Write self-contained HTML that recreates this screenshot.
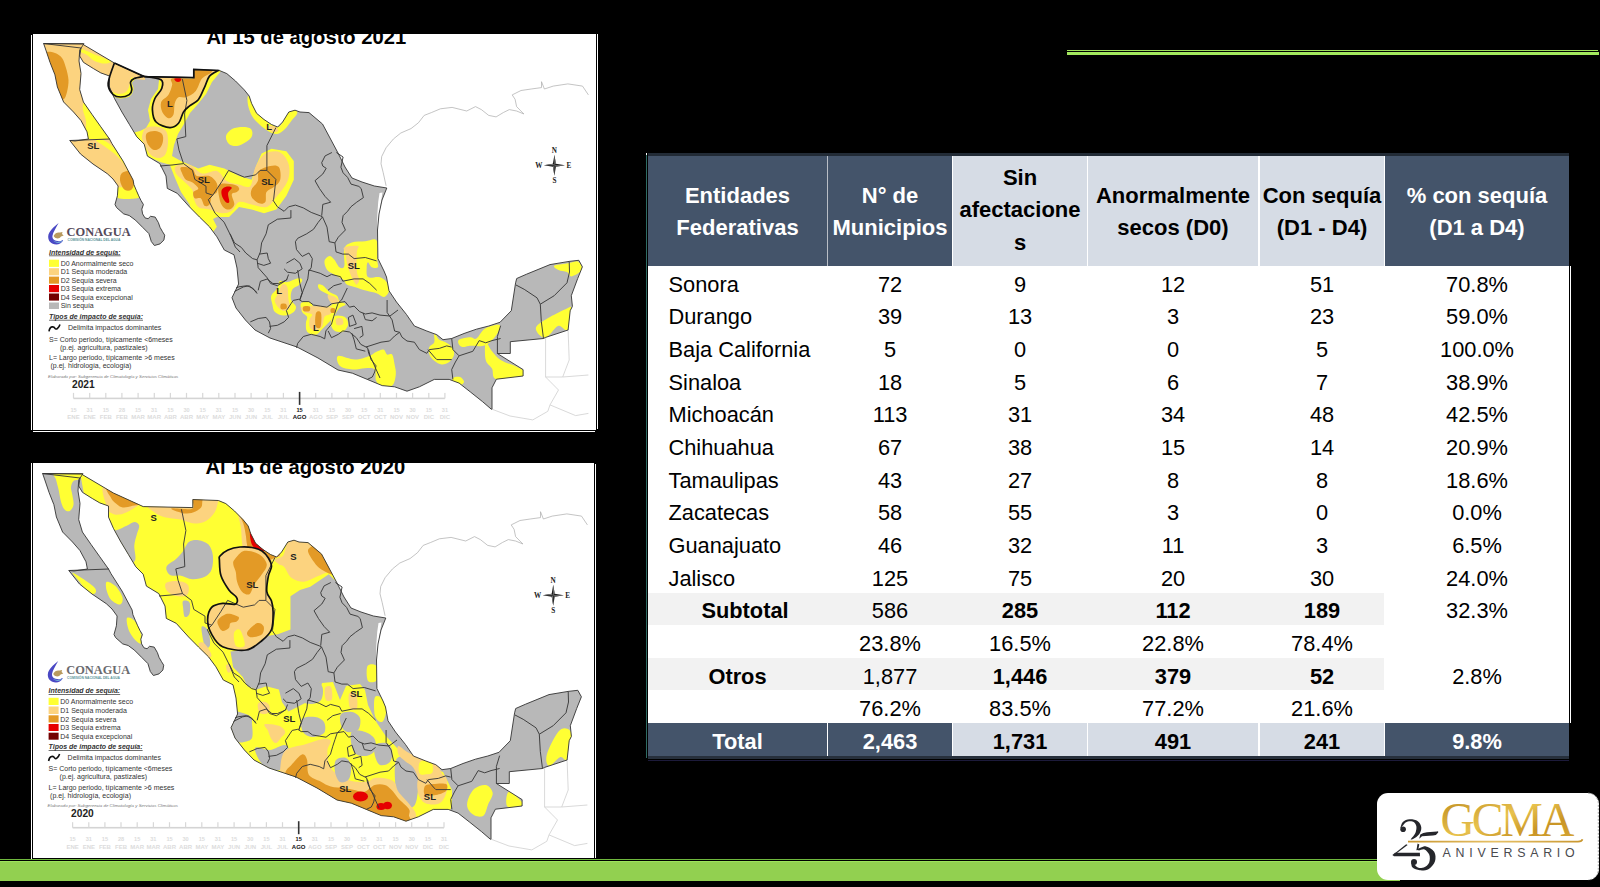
<!DOCTYPE html>
<html><head><meta charset="utf-8"><style>
*{margin:0;padding:0;box-sizing:border-box}
html,body{width:1600px;height:887px;overflow:hidden;background:#000}
body{position:relative;font-family:"Liberation Sans",sans-serif}
.c{position:absolute;overflow:visible}
.t{position:absolute;white-space:nowrap;line-height:1;font-family:"Liberation Sans",sans-serif}
.h{position:absolute;left:0;right:0;text-align:center;white-space:nowrap;font-weight:bold;font-size:22px;line-height:1}
</style></head>
<body>
<div style="position:absolute;left:1067px;top:50px;width:531px;height:1px;background:#9ee05c"></div>
<div style="position:absolute;left:1067px;top:52px;width:532px;height:3px;background:#a3e85e"></div>
<div style="position:absolute;left:0;top:859px;width:1400px;height:1px;background:#6fb83e"></div>
<div style="position:absolute;left:0;top:861px;width:1400px;height:20px;background:#92d050"></div>
<div style="position:absolute;left:0;top:861px;width:1400px;height:1px;background:#9ee35c"></div>
<svg width="1600" height="887" viewBox="0 0 1600 887" style="position:absolute;left:0;top:0">
<rect x="33" y="34" width="563" height="396" fill="#fff"/>
<rect x="31" y="35" width="1" height="395" fill="#fff"/>
<rect x="33" y="431" width="562" height="1" fill="#fff"/>
<rect x="597" y="34" width="1" height="395" fill="#fff"/>
<rect x="33" y="463" width="561" height="395" fill="#fff"/>
<rect x="31" y="463" width="1" height="396" fill="#fff"/>
<rect x="595" y="464" width="1" height="394" fill="#fff"/>
<defs>
<clipPath id="mx"><path d="M43.5,43.5 L83.0,44.0 L84.0,45.0 L114.4,63.0 L144.2,76.6 L193.8,77.6 L193.8,69.5 L219.4,70.5 L226.8,73.6 L235.5,81.0 L244.2,89.8 L249.2,96.0 L251.6,103.4 L256.6,113.3 L264.0,119.5 L271.5,124.5 L277.7,127.0 L282.6,122.0 L288.8,112.0 L295.0,110.2 L300.0,112.0 L309.0,112.6 L322.5,124.0 L330.0,138.0 L338.0,153.0 L345.0,167.0 L352.0,178.0 L362.0,182.0 L374.4,186.0 L386.8,188.0 L382.0,200.0 L379.0,214.0 L377.5,230.0 L377.9,258.5 L384.0,271.0 L386.5,277.0 L389.0,290.8 L396.5,302.0 L406.4,314.4 L414.4,326.0 L426.8,331.0 L436.8,334.7 L443.0,339.7 L451.7,338.5 L464.0,333.5 L476.4,329.2 L488.8,326.0 L500.0,322.3 L511.3,310.7 L515.6,282.8 L516.7,278.5 L526.3,274.3 L550.0,264.6 L569.2,261.4 L578.8,260.3 L582.4,266.8 L577.7,278.5 L571.3,295.7 L572.4,306.4 L570.2,310.7 L568.1,330.0 L545.6,337.4 L543.5,338.5 L510.3,341.7 L510.3,353.5 L497.4,353.5 L523.1,369.6 L523.1,376.0 L496.4,379.2 L492.0,387.8 L492.0,409.2 L491.3,409.2 L482.6,401.7 L470.2,391.8 L459.1,383.1 L449.2,379.4 L434.3,379.4 L419.4,386.8 L407.0,391.2 L394.6,386.8 L382.2,385.6 L367.3,379.4 L352.4,373.2 L338.0,370.0 L318.0,358.0 L297.0,347.0 L270.0,338.0 L255.0,330.0 L245.4,320.0 L236.0,308.0 L232.0,297.7 L238.6,284.0 L237.0,268.0 L234.0,254.8 L224.3,250.0 L216.9,236.8 L209.5,226.8 L199.5,217.0 L189.6,207.0 L177.2,193.3 L167.3,188.4 L166.0,176.0 L159.8,163.6 L147.4,156.1 L144.2,144.2 L136.8,136.8 L129.3,124.3 L121.9,112.0 L114.4,98.3 L109.5,87.1 L109.5,76.0 L100.8,72.9 L93.3,68.5 L83.4,62.3 L79.7,56.0 L81.0,48.0Z"/><path d="M43.7,43.7 L84.0,43.7 L79.7,50.0 L79.0,61.0 L81.0,73.5 L79.7,89.6 L83.4,102.0 L92.0,114.4 L100.8,126.8 L109.5,139.0 L112.0,143.7 L123.0,161.0 L133.1,180.0 L133.9,184.7 L136.3,190.3 L138.7,195.8 L141.0,200.5 L143.4,204.5 L141.8,209.2 L142.6,213.9 L145.0,217.9 L148.1,218.7 L150.5,216.3 L155.2,217.1 L158.4,222.6 L160.0,227.3 L162.3,231.3 L164.7,235.2 L163.9,240.0 L160.0,243.9 L154.4,245.5 L151.3,241.5 L148.9,233.6 L142.6,227.3 L135.5,220.2 L129.2,215.5 L123.7,213.9 L116.6,207.6 L115.0,204.5 L117.4,195.8 L118.1,186.0 L113.0,179.0 L107.3,173.7 L93.0,164.0 L80.5,154.0 L69.8,140.5 L75.0,141.0 L88.4,139.0 L87.0,131.8 L81.0,120.6 L73.5,112.0 L63.6,102.0 L57.4,87.0 L54.9,74.7 L50.0,62.3 L46.2,51.0Z"/></clipPath>
<clipPath id="box1"><rect x="33" y="34" width="563" height="396"/></clipPath>
<clipPath id="box2"><rect x="34" y="33" width="561" height="395"/></clipPath>
</defs>
<g transform="translate(0,0)" clip-path="url(#box1)">
<path d="M386.1,185.8 L383.2,172.6 L381.0,163.8 L381.7,156.5 L386.1,147.7 L393.5,138.9 L400.8,133.0 L411.0,128.6 L418.4,122.8 L424.2,115.4 L431.6,112.5 L440.4,108.8 L452.1,107.4 L466.7,111.0 L475.5,106.6 L481.4,109.6 L488.7,115.4 L496.1,116.9 L503.4,112.5 L509.3,109.6 L516.6,111.0 L523.9,114.0 L516.6,106.6 L515.1,99.3 L512.2,94.9 L521.0,90.5 L531.2,89.0 L541.5,87.6 L541.5,81.7 L544.4,89.0 L553.2,86.1 L567.9,83.9 L582.5,86.1 L588.4,94.9" stroke="#aaaaaa" stroke-width="0.7" fill="none"/>
<path d="M545.6,337.4 L545.6,377.0 L562.7,377.0 L569.2,360.0 L568.1,330.0" stroke="#cfcfcf" stroke-width="0.8" fill="none"/>
<path d="M545.6,377.0 L558.5,390.0 L550.0,404.9 L547.8,411.3 L532.8,419.9 L510.0,416.0 L492.0,409.2" stroke="#cfcfcf" stroke-width="0.8" fill="none"/>
<path d="M550.0,404.9 L575.6,415.6 L588.4,413.4" stroke="#cfcfcf" stroke-width="0.8" fill="none"/>
<path d="M562.7,377.0 L588.4,375.0" stroke="#cfcfcf" stroke-width="0.8" fill="none"/>
<path d="M43.5,43.5 L83.0,44.0 L84.0,45.0 L114.4,63.0 L144.2,76.6 L193.8,77.6 L193.8,69.5 L219.4,70.5 L226.8,73.6 L235.5,81.0 L244.2,89.8 L249.2,96.0 L251.6,103.4 L256.6,113.3 L264.0,119.5 L271.5,124.5 L277.7,127.0 L282.6,122.0 L288.8,112.0 L295.0,110.2 L300.0,112.0 L309.0,112.6 L322.5,124.0 L330.0,138.0 L338.0,153.0 L345.0,167.0 L352.0,178.0 L362.0,182.0 L374.4,186.0 L386.8,188.0 L382.0,200.0 L379.0,214.0 L377.5,230.0 L377.9,258.5 L384.0,271.0 L386.5,277.0 L389.0,290.8 L396.5,302.0 L406.4,314.4 L414.4,326.0 L426.8,331.0 L436.8,334.7 L443.0,339.7 L451.7,338.5 L464.0,333.5 L476.4,329.2 L488.8,326.0 L500.0,322.3 L511.3,310.7 L515.6,282.8 L516.7,278.5 L526.3,274.3 L550.0,264.6 L569.2,261.4 L578.8,260.3 L582.4,266.8 L577.7,278.5 L571.3,295.7 L572.4,306.4 L570.2,310.7 L568.1,330.0 L545.6,337.4 L543.5,338.5 L510.3,341.7 L510.3,353.5 L497.4,353.5 L523.1,369.6 L523.1,376.0 L496.4,379.2 L492.0,387.8 L492.0,409.2 L491.3,409.2 L482.6,401.7 L470.2,391.8 L459.1,383.1 L449.2,379.4 L434.3,379.4 L419.4,386.8 L407.0,391.2 L394.6,386.8 L382.2,385.6 L367.3,379.4 L352.4,373.2 L338.0,370.0 L318.0,358.0 L297.0,347.0 L270.0,338.0 L255.0,330.0 L245.4,320.0 L236.0,308.0 L232.0,297.7 L238.6,284.0 L237.0,268.0 L234.0,254.8 L224.3,250.0 L216.9,236.8 L209.5,226.8 L199.5,217.0 L189.6,207.0 L177.2,193.3 L167.3,188.4 L166.0,176.0 L159.8,163.6 L147.4,156.1 L144.2,144.2 L136.8,136.8 L129.3,124.3 L121.9,112.0 L114.4,98.3 L109.5,87.1 L109.5,76.0 L100.8,72.9 L93.3,68.5 L83.4,62.3 L79.7,56.0 L81.0,48.0Z" fill="#b8b8b8"/>
<path d="M43.7,43.7 L84.0,43.7 L79.7,50.0 L79.0,61.0 L81.0,73.5 L79.7,89.6 L83.4,102.0 L92.0,114.4 L100.8,126.8 L109.5,139.0 L112.0,143.7 L123.0,161.0 L133.1,180.0 L133.9,184.7 L136.3,190.3 L138.7,195.8 L141.0,200.5 L143.4,204.5 L141.8,209.2 L142.6,213.9 L145.0,217.9 L148.1,218.7 L150.5,216.3 L155.2,217.1 L158.4,222.6 L160.0,227.3 L162.3,231.3 L164.7,235.2 L163.9,240.0 L160.0,243.9 L154.4,245.5 L151.3,241.5 L148.9,233.6 L142.6,227.3 L135.5,220.2 L129.2,215.5 L123.7,213.9 L116.6,207.6 L115.0,204.5 L117.4,195.8 L118.1,186.0 L113.0,179.0 L107.3,173.7 L93.0,164.0 L80.5,154.0 L69.8,140.5 L75.0,141.0 L88.4,139.0 L87.0,131.8 L81.0,120.6 L73.5,112.0 L63.6,102.0 L57.4,87.0 L54.9,74.7 L50.0,62.3 L46.2,51.0Z" fill="#b8b8b8"/>
<g clip-path="url(#mx)">
<path d="M40.0,40.0 L90.0,40.0 L90.0,140.0 L40.0,140.0Z" fill="#fcd37f"/>
<path d="M47.0,52.0C48.3,51.5 52.5,52.0 55.0,53.0C57.5,54.0 60.2,55.5 62.0,58.0C63.8,60.5 64.9,64.3 66.0,68.0C67.1,71.7 68.3,76.0 68.5,80.0C68.7,84.0 67.8,88.8 67.0,92.0C66.2,95.2 65.2,98.3 64.0,99.0C62.8,99.7 61.2,98.2 60.0,96.0C58.8,93.8 58.0,89.5 57.0,86.0C56.0,82.5 55.2,78.7 54.0,75.0C52.8,71.3 51.2,67.2 50.0,64.0C48.8,60.8 47.5,58.0 47.0,56.0C46.5,54.0 45.7,52.5 47.0,52.0Z" fill="#e39a26"/>
<path d="M84.0,103.0C85.5,102.5 89.3,104.2 92.0,107.0C94.7,109.8 97.2,115.0 100.0,120.0C102.8,125.0 107.2,133.5 109.0,137.0C110.8,140.5 114.5,140.3 111.0,141.0C107.5,141.7 92.2,144.3 88.0,141.0C83.8,137.7 86.8,126.2 86.0,121.0C85.2,115.8 83.3,113.0 83.0,110.0C82.7,107.0 82.5,103.5 84.0,103.0Z" fill="#ffff33"/>
<path d="M60.0,139.0 L112.0,139.0 L125.0,160.0 L136.0,186.0 L137.0,190.0 L118.0,190.0 L105.0,172.0 L70.0,150.0Z" fill="#fcd37f"/>
<path d="M96.0,140.5C96.2,139.7 101.7,139.4 105.0,141.0C108.3,142.6 112.8,146.5 116.0,150.0C119.2,153.5 121.3,157.3 124.0,162.0C126.7,166.7 129.7,173.0 132.0,178.0C134.3,183.0 137.0,188.7 138.0,192.0C139.0,195.3 141.3,197.0 138.0,198.0C134.7,199.0 121.5,199.7 118.0,198.0C114.5,196.3 115.8,190.0 117.0,188.0C118.2,186.0 123.2,188.7 125.0,186.0C126.8,183.3 129.2,176.8 128.0,172.0C126.8,167.2 122.0,161.3 118.0,157.0C114.0,152.7 107.7,148.8 104.0,146.0C100.3,143.2 95.8,141.3 96.0,140.5Z" fill="#ffff33"/>
<path d="M122.0,173.0C123.3,171.8 126.2,170.7 128.0,171.0C129.8,171.3 132.0,172.8 133.0,175.0C134.0,177.2 134.3,181.5 134.0,184.0C133.7,186.5 132.5,189.0 131.0,190.0C129.5,191.0 126.7,191.0 125.0,190.0C123.3,189.0 121.8,186.0 121.0,184.0C120.2,182.0 119.8,179.8 120.0,178.0C120.2,176.2 120.7,174.2 122.0,173.0Z" fill="#e39a26"/>
<path d="M78.0,44.0 L145.0,70.0 L145.0,80.0 L134.0,79.0 L130.5,82.0 L131.8,89.6 L129.0,95.0 L120.0,97.0 L113.0,94.6 L108.0,86.0 L109.5,77.0 L100.0,73.0 L86.0,66.0 L83.0,55.0Z" fill="#fcd37f"/>
<path d="M81.0,48.7C83.5,49.2 91.0,53.0 96.0,55.0C101.0,57.0 109.3,59.6 110.7,61.0C112.1,62.4 107.2,63.6 104.5,63.6C101.8,63.6 97.5,62.4 94.6,61.0C91.7,59.6 89.3,56.5 87.0,55.0C84.7,53.5 82.0,53.0 81.0,52.0C80.0,51.0 78.5,48.2 81.0,48.7Z" fill="#ffff33"/>
<path d="M112.0,95.0C113.3,96.1 117.0,98.3 120.0,98.5C123.0,98.7 127.8,97.6 130.0,96.0C132.2,94.4 133.2,91.2 133.5,89.0C133.8,86.8 131.8,84.7 132.0,83.0C132.2,81.3 135.2,79.8 135.0,79.0C134.8,78.2 131.9,76.8 131.0,78.0C130.1,79.2 130.1,83.7 129.3,86.0C128.5,88.3 127.7,90.7 126.0,92.0C124.3,93.3 121.3,94.0 119.0,94.0C116.7,94.0 113.2,91.8 112.0,92.0C110.8,92.2 110.7,93.9 112.0,95.0Z" fill="#ffff33"/>
<path d="M143.0,76.0 L160.0,79.0 L159.0,80.0 L158.0,89.0 L151.0,99.0 L148.0,110.0 L150.0,121.0 L146.0,128.0 L140.0,131.0 L128.0,134.0 L140.0,148.0 L147.0,156.0 L160.0,162.0 L169.8,164.8 L174.7,177.2 L181.0,192.1 L189.6,204.5 L192.0,212.0 L200.0,222.0 L209.0,231.0 L213.2,231.8 L216.9,226.8 L213.0,219.0 L217.0,217.0 L229.0,217.0 L239.0,207.0 L251.6,209.5 L264.0,213.2 L276.4,209.5 L286.4,195.8 L293.8,179.7 L293.8,161.1 L286.4,151.2 L271.5,148.7 L261.6,153.6 L256.6,164.8 L251.6,179.7 L239.2,176.0 L224.3,168.5 L209.5,164.8 L198.3,168.5 L181.0,161.0 L172.0,156.0 L174.0,145.0 L178.0,134.0 L184.0,124.0 L190.0,113.0 L198.0,104.0 L206.0,94.0 L212.0,82.0 L221.0,71.0 L195.0,70.0 L195.0,78.5Z" fill="#ffff33"/>
<path d="M143.0,76.0 L161.0,79.8 L161.7,88.5 L154.9,98.5 L152.4,109.6 L156.1,122.0 L169.8,127.6 L178.5,123.3 L183.4,112.1 L189.6,105.9 L198.3,99.7 L204.5,87.3 L209.5,76.1 L218.1,70.5 L195.0,69.0 L195.0,78.5Z" fill="#fcd37f"/>
<path d="M172.2,78.6C175.7,77.6 189.8,80.1 193.3,78.6C196.8,77.1 190.2,70.7 193.3,69.5C196.4,68.3 210.6,69.7 212.0,71.2C213.4,72.7 204.7,75.3 202.0,78.6C199.3,81.9 198.5,87.9 195.8,91.0C193.1,94.1 188.8,96.2 185.9,97.2C183.0,98.2 180.4,96.2 178.5,97.2C176.6,98.2 175.5,100.5 174.7,103.4C173.9,106.3 174.5,112.1 173.5,114.6C172.5,117.1 170.4,118.7 168.5,118.3C166.6,117.9 163.5,114.8 162.3,112.1C161.1,109.4 160.1,105.1 161.1,102.2C162.1,99.3 166.7,97.6 168.5,94.7C170.3,91.8 171.6,87.5 172.2,84.8C172.8,82.1 168.7,79.6 172.2,78.6Z" fill="#e39a26"/>
<path d="M174.5,78.6C175.3,78.1 180.1,78.1 181.0,78.6C181.9,79.1 180.8,81.0 180.0,81.5C179.2,82.0 176.9,82.0 176.0,81.5C175.1,81.0 173.7,79.1 174.5,78.6Z" fill="#e60000"/>
<path d="M146.0,128.0C148.7,126.2 154.7,126.5 158.0,127.0C161.3,127.5 164.3,128.8 166.0,131.0C167.7,133.2 167.8,136.8 168.0,140.0C168.2,143.2 167.7,147.3 167.0,150.0C166.3,152.7 165.5,154.7 164.0,156.0C162.5,157.3 160.2,158.2 158.0,158.0C155.8,157.8 153.0,156.7 151.0,155.0C149.0,153.3 147.5,150.8 146.0,148.0C144.5,145.2 142.0,141.3 142.0,138.0C142.0,134.7 143.3,129.8 146.0,128.0Z" fill="#fcd37f"/>
<path d="M147.0,133.0C148.5,131.7 152.5,130.8 155.0,131.0C157.5,131.2 160.7,132.3 162.0,134.0C163.3,135.7 163.3,138.7 163.0,141.0C162.7,143.3 161.5,146.5 160.0,148.0C158.5,149.5 155.8,150.3 154.0,150.0C152.2,149.7 150.3,147.8 149.0,146.0C147.7,144.2 146.3,141.2 146.0,139.0C145.7,136.8 145.5,134.3 147.0,133.0Z" fill="#e39a26"/>
<path d="M176.0,166.0C178.3,164.6 185.3,163.6 189.6,164.8C193.9,166.1 197.4,172.5 202.0,173.5C206.6,174.5 212.8,169.8 216.9,171.0C221.0,172.2 223.1,178.7 226.8,181.0C230.5,183.3 235.3,183.9 239.2,184.7C243.1,185.5 247.7,188.8 250.4,185.9C253.1,183.0 252.9,172.7 255.4,167.3C257.9,161.9 261.2,156.1 265.3,153.6C269.4,151.1 276.3,150.5 280.2,152.4C284.1,154.3 287.6,160.0 288.8,164.8C290.0,169.6 289.7,175.6 287.6,181.0C285.5,186.4 279.9,192.7 276.4,197.0C272.9,201.3 270.6,205.8 266.5,207.0C262.4,208.2 256.1,205.3 251.6,204.5C247.0,203.7 242.5,201.0 239.2,202.0C235.9,203.0 234.7,208.8 231.8,210.7C228.9,212.6 225.6,213.4 221.9,213.2C218.2,213.0 213.4,210.5 209.5,209.5C205.6,208.5 201.0,209.1 198.3,207.0C195.6,204.9 194.3,199.9 193.3,197.0C192.3,194.1 193.9,192.5 192.1,189.6C190.2,186.7 184.9,182.4 182.2,179.7C179.5,177.0 177.0,175.8 176.0,173.5C175.0,171.2 173.7,167.4 176.0,166.0Z" fill="#fcd37f"/>
<path d="M181.0,167.3C182.7,166.5 189.4,167.1 192.1,168.5C194.8,169.9 194.1,174.8 197.0,176.0C199.9,177.2 206.2,174.8 209.5,176.0C212.8,177.2 215.7,180.7 216.9,183.4C218.1,186.1 217.7,190.0 216.9,192.1C216.1,194.2 213.2,193.7 212.0,195.8C210.8,197.9 210.8,202.8 209.5,204.5C208.2,206.2 205.9,206.8 204.5,205.8C203.1,204.8 202.5,199.6 200.8,198.3C199.2,197.1 195.8,199.3 194.6,198.3C193.3,197.3 192.7,193.8 193.3,192.1C193.9,190.4 198.5,190.1 198.3,188.4C198.1,186.8 194.2,183.6 192.1,182.2C190.0,180.8 187.6,181.1 185.9,179.7C184.2,178.2 183.0,175.6 182.2,173.5C181.4,171.4 179.3,168.1 181.0,167.3Z" fill="#e39a26"/>
<path d="M219.4,184.7C221.9,182.4 231.0,184.1 234.3,184.7C237.6,185.3 238.8,187.2 239.2,188.4C239.6,189.6 238.0,191.1 236.8,192.1C235.6,193.1 232.2,192.5 231.8,194.6C231.4,196.7 234.7,202.0 234.3,204.5C233.9,207.0 231.2,209.1 229.3,209.5C227.4,209.9 224.8,208.9 223.1,207.0C221.4,205.1 220.0,202.0 219.4,198.3C218.8,194.6 216.9,187.0 219.4,184.7Z" fill="#e39a26"/>
<path d="M221.9,189.6C222.7,188.0 225.2,186.8 226.8,186.5C228.5,186.2 231.6,186.7 231.8,187.8C232.0,188.9 228.5,190.9 228.1,193.3C227.7,195.7 229.7,200.6 229.3,202.0C228.9,203.4 226.8,203.0 225.6,202.0C224.4,201.0 222.5,197.9 221.9,195.8C221.3,193.7 221.1,191.2 221.9,189.6Z" fill="#e60000"/>
<path d="M259.0,171.0C261.1,168.5 266.9,166.6 270.2,166.0C273.5,165.4 277.3,165.0 279.0,167.3C280.7,169.6 281.0,176.4 280.2,179.7C279.4,183.0 276.3,185.0 274.0,187.1C271.7,189.2 267.9,189.6 266.5,192.1C265.1,194.6 266.6,200.1 265.3,202.0C264.1,203.9 261.3,204.1 259.0,203.3C256.7,202.5 252.8,199.3 251.6,197.0C250.4,194.7 250.6,192.3 251.6,189.6C252.6,186.9 256.6,184.1 257.8,181.0C259.0,177.9 256.9,173.5 259.0,171.0Z" fill="#e39a26"/>
<path d="M226.0,136.0C226.5,133.5 229.2,130.5 232.0,129.0C234.8,127.5 239.8,127.0 243.0,127.0C246.2,127.0 249.5,127.5 251.0,129.0C252.5,130.5 252.8,133.8 252.0,136.0C251.2,138.2 248.5,140.3 246.0,142.0C243.5,143.7 239.8,145.7 237.0,146.0C234.2,146.3 230.8,145.7 229.0,144.0C227.2,142.3 225.5,138.5 226.0,136.0Z" fill="#ffff33"/>
<path d="M248.0,96.0C248.7,95.5 250.5,99.2 252.0,102.0C253.5,104.8 254.8,110.1 257.0,113.0C259.2,115.9 262.5,117.6 265.0,119.5C267.5,121.4 269.8,123.2 272.0,124.5C274.2,125.8 276.2,127.4 278.0,127.0C279.8,126.6 281.2,124.5 283.0,122.0C284.8,119.5 286.8,114.0 289.0,112.0C291.2,110.0 294.7,109.7 296.0,110.0C297.3,110.3 297.7,112.3 297.0,114.0C296.3,115.7 294.0,117.5 292.0,120.0C290.0,122.5 287.5,126.7 285.0,129.0C282.5,131.3 279.8,133.7 277.0,134.0C274.2,134.3 271.0,132.7 268.0,131.0C265.0,129.3 261.7,126.5 259.0,124.0C256.3,121.5 253.8,119.2 252.0,116.0C250.2,112.8 248.7,108.3 248.0,105.0C247.3,101.7 247.3,96.5 248.0,96.0Z" fill="#ffff33"/>
<path d="M268.0,126.0C268.7,125.2 274.3,126.2 276.0,127.0C277.7,127.8 278.7,130.2 278.0,131.0C277.3,131.8 273.7,132.8 272.0,132.0C270.3,131.2 267.3,126.8 268.0,126.0Z" fill="#fcd37f"/>
<path d="M324.5,261.0C324.9,258.7 327.9,256.2 329.5,256.0C331.1,255.8 332.8,257.9 334.4,259.8C336.0,261.7 337.8,266.2 339.4,267.2C341.0,268.2 343.5,269.1 344.3,266.0C345.1,262.9 343.1,252.5 344.3,248.6C345.6,244.7 348.3,243.6 351.8,242.4C355.3,241.2 361.3,241.5 365.4,241.2C369.5,240.9 374.6,237.4 376.6,240.5C378.6,243.6 377.0,255.4 377.2,259.8C377.4,264.2 378.8,266.0 377.9,267.2C377.0,268.4 373.3,268.0 371.7,267.2C370.1,266.4 368.8,262.3 368.0,262.3C367.2,262.3 366.7,264.7 366.7,267.2C366.7,269.7 365.9,275.5 368.0,277.1C370.1,278.8 376.0,276.3 379.1,277.1C382.2,277.9 384.9,279.8 386.5,282.1C388.1,284.4 389.4,288.3 389.0,290.8C388.6,293.3 386.1,296.6 384.0,297.0C381.9,297.4 379.5,294.3 376.6,293.3C373.7,292.3 370.4,291.9 366.7,290.8C363.0,289.8 357.6,288.0 354.3,287.0C351.0,286.0 348.7,285.8 346.8,284.6C344.9,283.4 345.2,281.2 343.1,279.6C341.0,278.0 337.1,276.4 334.4,274.7C331.7,273.0 328.6,272.0 327.0,269.7C325.4,267.4 324.1,263.3 324.5,261.0Z" fill="#ffff33"/>
<path d="M344.3,247.4C346.4,246.2 355.9,245.3 358.0,246.1C360.1,246.9 357.0,248.2 356.8,252.3C356.6,256.4 356.4,266.4 356.8,271.0C357.2,275.6 359.2,277.3 359.2,279.6C359.2,281.9 357.6,284.2 356.8,284.6C356.0,285.0 355.3,283.8 354.3,282.1C353.3,280.5 351.9,278.0 350.6,274.7C349.4,271.4 347.6,265.8 346.8,262.3C346.0,258.8 346.0,256.1 345.6,253.6C345.2,251.1 342.2,248.7 344.3,247.4Z" fill="#fcd37f"/>
<path d="M279.8,280.9C281.5,279.9 284.4,282.5 287.3,282.1C290.2,281.7 294.7,278.8 297.2,278.4C299.7,278.0 301.8,278.6 302.2,279.6C302.6,280.6 301.3,282.9 299.7,284.6C298.1,286.3 293.8,287.1 292.3,289.6C290.9,292.1 290.4,296.6 291.0,299.5C291.6,302.4 295.8,304.6 296.0,306.9C296.2,309.2 294.4,311.7 292.3,313.1C290.2,314.6 286.5,315.8 283.6,315.6C280.7,315.4 276.8,313.8 274.9,311.9C273.0,310.0 273.0,307.1 272.4,304.4C271.8,301.7 270.4,298.5 271.2,295.8C272.0,293.1 276.0,290.8 277.4,288.3C278.8,285.8 278.1,281.9 279.8,280.9Z" fill="#ffff33"/>
<path d="M282.3,284.6C284.0,283.4 286.3,284.5 287.3,287.0C288.3,289.5 288.1,296.0 288.5,299.5C288.9,303.0 290.8,306.2 289.8,308.1C288.8,310.0 284.8,311.6 282.3,310.6C279.8,309.6 275.7,304.7 274.9,302.0C274.1,299.3 276.2,297.4 277.4,294.5C278.6,291.6 280.6,285.9 282.3,284.6Z" fill="#fcd37f"/>
<path d="M281.0,304.0C281.8,303.2 285.1,303.2 286.0,304.0C286.9,304.8 287.3,307.7 286.5,308.5C285.7,309.3 281.9,309.8 281.0,309.0C280.1,308.2 280.2,304.8 281.0,304.0Z" fill="#e39a26"/>
<path d="M301.0,303.2C302.2,301.6 307.3,301.4 309.6,302.0C311.9,302.6 311.9,306.1 314.6,306.9C317.3,307.7 322.8,307.3 325.7,306.9C328.6,306.5 331.4,306.2 332.0,304.4C332.6,302.5 331.6,298.3 329.5,295.8C327.4,293.3 321.4,291.5 319.5,289.6C317.6,287.7 317.7,285.2 318.3,284.6C318.9,284.0 321.4,284.6 323.3,285.8C325.2,287.0 327.2,290.3 329.5,292.0C331.8,293.7 335.4,294.4 337.0,295.8C338.6,297.2 338.0,299.3 339.4,300.7C340.8,302.1 345.6,303.2 345.6,304.4C345.6,305.6 341.3,306.2 339.4,308.1C337.5,310.0 336.0,313.3 334.4,315.6C332.8,317.9 331.6,319.5 329.5,321.8C327.4,324.1 324.3,327.0 322.0,329.2C319.7,331.4 318.3,334.4 315.8,334.8C313.3,335.2 308.8,333.7 307.1,331.7C305.5,329.7 305.9,325.5 305.9,323.0C305.9,320.5 307.7,318.7 307.1,316.8C306.5,314.9 303.2,314.2 302.2,311.9C301.2,309.6 299.8,304.8 301.0,303.2Z" fill="#ffff33"/>
<path d="M302.2,306.9C306.3,306.1 324.1,306.3 329.5,306.9C334.9,307.5 334.4,309.4 334.4,310.6C334.4,311.9 331.1,313.4 329.5,314.4C327.9,315.4 325.8,314.7 324.5,316.8C323.2,318.9 323.6,324.5 322.0,326.8C320.4,329.1 316.7,330.5 314.6,330.5C312.5,330.5 310.4,328.7 309.6,326.8C308.8,324.9 309.2,321.4 309.6,319.3C310.0,317.2 312.9,315.6 312.1,314.4C311.3,313.2 306.4,313.1 304.7,311.9C303.0,310.6 298.1,307.7 302.2,306.9Z" fill="#fcd37f"/>
<path d="M328.0,295.0C329.0,294.5 333.2,295.8 335.0,297.0C336.8,298.2 339.3,300.8 339.0,302.0C338.7,303.2 334.7,304.3 333.0,304.0C331.3,303.7 329.8,301.5 329.0,300.0C328.2,298.5 327.0,295.5 328.0,295.0Z" fill="#fcd37f"/>
<path d="M303.5,306.5C304.5,305.8 308.5,305.8 309.5,306.5C310.5,307.2 310.5,310.2 309.5,311.0C308.5,311.8 304.5,311.8 303.5,311.0C302.5,310.2 302.5,307.2 303.5,306.5Z" fill="#e39a26"/>
<path d="M316.0,313.0C316.9,310.8 320.2,310.7 321.0,313.0C321.8,315.3 321.4,324.8 320.5,327.0C319.6,329.2 316.2,328.3 315.5,326.0C314.8,323.7 315.1,315.2 316.0,313.0Z" fill="#e39a26"/>
<path d="M331.0,308.5C331.7,307.8 334.3,307.8 335.0,308.5C335.7,309.2 335.7,311.8 335.0,312.5C334.3,313.2 331.7,313.2 331.0,312.5C330.3,311.8 330.3,309.2 331.0,308.5Z" fill="#e39a26"/>
<path d="M332.0,318.0C333.2,316.4 335.7,315.6 338.0,315.6C340.3,315.6 344.3,316.4 346.0,318.0C347.7,319.6 348.5,322.7 348.0,325.0C347.5,327.3 345.2,330.7 343.0,331.7C340.8,332.7 337.0,332.1 335.0,331.0C333.0,329.9 331.5,327.2 331.0,325.0C330.5,322.8 330.8,319.6 332.0,318.0Z" fill="#ffff33"/>
<path d="M336.0,319.0C336.8,317.9 340.8,317.7 342.0,318.5C343.2,319.3 343.8,322.9 343.0,324.0C342.2,325.1 338.2,325.8 337.0,325.0C335.8,324.2 335.2,320.1 336.0,319.0Z" fill="#fcd37f"/>
<path d="M338.0,356.0C340.5,354.9 349.6,359.6 354.9,359.6C360.2,359.6 366.3,357.1 369.8,355.8C373.3,354.6 373.7,353.1 376.0,352.1C378.3,351.1 381.5,349.2 383.4,349.6C385.2,350.0 385.7,353.8 387.1,354.6C388.6,355.4 390.9,353.0 392.1,354.6C393.4,356.2 394.0,361.2 394.6,364.5C395.2,367.8 396.2,370.9 395.8,374.4C395.4,377.9 394.6,383.7 392.1,385.6C389.6,387.5 383.7,386.4 381.0,385.6C378.3,384.8 377.1,383.3 376.0,380.6C374.9,377.9 376.6,371.6 374.7,369.5C372.8,367.4 368.5,368.2 364.8,368.2C361.1,368.2 356.5,369.9 352.4,369.5C348.3,369.1 342.4,368.2 340.0,366.0C337.6,363.8 335.5,357.1 338.0,356.0Z" fill="#ffff33"/>
<path d="M434.3,333.5C435.1,333.1 437.4,338.2 439.3,339.7C441.2,341.1 443.4,341.0 445.5,342.2C447.6,343.4 450.3,345.0 451.7,347.1C453.1,349.2 454.5,352.1 454.1,354.6C453.7,357.1 451.3,360.4 449.2,362.0C447.1,363.6 444.2,364.7 441.7,364.5C439.2,364.3 436.4,362.4 434.3,360.8C432.2,359.2 430.1,356.9 429.3,354.6C428.5,352.3 428.5,349.2 429.3,347.1C430.1,345.0 433.5,344.5 434.3,342.2C435.1,339.9 433.5,333.9 434.3,333.5Z" fill="#ffff33"/>
<path d="M459.1,339.7C461.0,338.4 467.3,337.4 470.2,337.2C473.1,337.0 473.9,339.9 476.4,338.5C478.9,337.1 481.4,330.8 485.1,328.5C488.8,326.2 496.5,324.4 498.8,324.8C501.1,325.2 500.1,328.3 498.8,331.0C497.6,333.7 494.0,338.4 491.3,340.9C488.6,343.4 486.3,345.1 482.6,345.9C478.9,346.7 472.3,345.7 469.0,345.9C465.7,346.1 464.4,347.3 462.8,347.1C461.2,346.9 459.7,345.9 459.1,344.7C458.5,343.5 457.2,340.9 459.1,339.7Z" fill="#ffff33"/>
<path d="M485.7,342.8C486.8,341.4 489.5,348.4 492.0,351.3C494.5,354.2 496.7,357.5 500.6,360.0C504.5,362.5 511.9,364.5 515.6,366.3C519.4,368.1 521.9,369.0 523.1,370.6C524.4,372.2 527.6,374.6 523.1,376.0C518.6,377.4 501.6,380.4 496.4,379.2C491.2,377.9 493.8,371.7 492.0,368.5C490.2,365.3 486.8,364.3 485.7,360.0C484.6,355.7 484.6,344.2 485.7,342.8Z" fill="#ffff33"/>
<path d="M453.0,378.0C454.2,376.8 458.2,376.3 460.0,377.0C461.8,377.7 464.2,380.5 464.0,382.0C463.8,383.5 460.8,385.7 459.0,386.0C457.2,386.3 454.0,385.3 453.0,384.0C452.0,382.7 451.8,379.2 453.0,378.0Z" fill="#ffff33"/>
<path d="M537.0,325.7C539.2,323.2 545.0,319.9 550.0,317.0C555.0,314.1 563.5,309.9 567.0,308.5C570.5,307.1 570.9,305.6 571.3,308.5C571.7,311.4 570.1,322.1 569.2,325.7C568.3,329.3 567.8,330.0 566.0,330.0C564.2,330.0 561.2,325.0 558.5,325.7C555.8,326.4 552.1,332.2 550.0,334.2C547.9,336.1 547.1,337.0 545.6,337.4C544.1,337.8 542.7,337.3 541.3,336.4C539.9,335.5 537.7,333.8 537.0,332.0C536.3,330.2 534.8,328.2 537.0,325.7Z" fill="#ffff33"/>
<path d="M554.2,265.7C555.6,264.6 563.1,264.3 567.0,263.6C570.9,262.9 575.2,260.7 577.7,261.4C580.2,262.1 581.6,266.0 582.0,267.8C582.4,269.6 581.8,270.7 580.0,272.1C578.2,273.5 573.5,276.4 571.3,276.4C569.1,276.4 569.1,273.2 567.0,272.1C564.9,271.0 560.6,271.1 558.5,270.0C556.4,268.9 552.8,266.8 554.2,265.7Z" fill="#ffff33"/>
<path d="M379.5,193 L382.5,192.5 L380.5,205 L379,218 L378.5,230 L377,229 L377.3,215 L378.2,202Z" fill="#fff"/>
</g>
<path d="M69.8,140.5 L110.0,139.0" stroke="#3a3a3a" stroke-width="0.95" fill="none"/>
<path d="M182.4,79.2 L186.9,100.5 L184.6,114.0 L185.8,136.6 L176.8,138.9 L179.0,150.1 L183.5,163.6" stroke="#3a3a3a" stroke-width="0.95" fill="none"/>
<path d="M160.0,166.0 L172.0,165.0 L183.5,163.6" stroke="#3a3a3a" stroke-width="0.95" fill="none"/>
<path d="M183.5,163.6 L192.5,170.4 L194.8,179.4 L206.0,186.2 L206.0,192.9 L212.8,195.2 L208.3,199.7 L215.0,213.2 L224.1,222.2 L230.8,235.8 L235.3,247.0 L240.0,252.0" stroke="#3a3a3a" stroke-width="0.95" fill="none"/>
<path d="M228.6,170.4 L244.3,177.2 L255.6,174.9 L260.1,170.4 L266.9,170.4" stroke="#3a3a3a" stroke-width="0.95" fill="none"/>
<path d="M275.9,127.6 L266.9,145.6 L266.9,170.4" stroke="#3a3a3a" stroke-width="0.95" fill="none"/>
<path d="M212.8,195.2 L221.8,181.6 L228.6,170.4" stroke="#3a3a3a" stroke-width="0.95" fill="none"/>
<path d="M266.9,170.4 L275.9,179.4 L273.6,199.6 L272.9,200.0 L277.4,206.8 L284.1,211.3 L288.6,206.8 L295.4,205.1 L303.3,207.9 L311.2,212.4 L320.2,215.8 L322.5,216.9" stroke="#3a3a3a" stroke-width="0.95" fill="none"/>
<path d="M331.9,152.5 L325.1,155.9 L321.7,162.7 L322.8,166.1 L326.2,168.3 L322.8,174.0 L315.0,180.7 L319.5,188.6 L325.1,196.5 L330.7,202.2 L322.8,204.4 L321.7,215.7" stroke="#3a3a3a" stroke-width="0.95" fill="none"/>
<path d="M336.4,152.5 L343.1,157.0 L340.9,167.2 L343.1,172.8 L347.6,177.4 L351.0,184.1 L358.9,186.4 L361.2,188.6 L363.4,197.6 L356.7,202.2 L351.0,206.7 L347.6,211.2 L343.1,215.7 L342.0,222.4 L345.4,230.0 L338.3,237.2 L334.9,242.9" stroke="#3a3a3a" stroke-width="0.95" fill="none"/>
<path d="M290.9,210.1 L290.9,218.0 L277.4,219.2 L268.3,224.8 L266.1,233.8 L261.6,242.9 L260.4,251.9 L257.1,259.8 L258.2,267.7 L267.2,277.8 L270.6,283.5 L277.4,285.7 L283.0,282.3 L287.5,278.9" stroke="#3a3a3a" stroke-width="0.95" fill="none"/>
<path d="M322.5,216.9 L318.0,222.6 L313.5,229.3 L306.7,233.8 L297.7,238.3 L295.4,241.7 L296.5,249.6 L302.2,256.4 L308.9,253.0 L312.3,258.6 L311.2,267.7 L308.9,271.0" stroke="#3a3a3a" stroke-width="0.95" fill="none"/>
<path d="M322.5,216.9 L327.0,227.1 L329.2,241.7 L334.9,242.9 L336.0,251.9 L342.8,254.1 L348.4,254.1 L354.1,258.6 L365.3,257.5 L376.6,260.9" stroke="#3a3a3a" stroke-width="0.95" fill="none"/>
<path d="M308.9,269.9 L320.2,273.3 L327.0,276.7 L331.5,274.4 L340.5,276.7 L342.8,281.2 L354.1,278.9 L363.1,278.9 L369.8,283.5 L376.6,290.2" stroke="#3a3a3a" stroke-width="0.95" fill="none"/>
<path d="M230.0,233.8 L234.5,242.9 L241.3,247.4 L245.8,253.0 L252.6,258.6 L257.1,259.8" stroke="#3a3a3a" stroke-width="0.95" fill="none"/>
<path d="M259.3,254.1 L267.2,253.0 L268.3,258.6 L270.6,263.2 L263.8,265.4 L257.1,263.2" stroke="#3a3a3a" stroke-width="0.95" fill="none"/>
<path d="M286.4,263.2 L294.3,258.6 L299.9,263.2 L302.2,268.8 L295.4,273.3 L287.5,272.2 L284.1,268.8" stroke="#3a3a3a" stroke-width="0.95" fill="none"/>
<path d="M236.0,288.0 L239.0,286.8 L246.9,285.7 L252.6,288.0 L257.1,293.6" stroke="#3a3a3a" stroke-width="0.95" fill="none"/>
<path d="M308.9,269.9 L307.8,278.9 L303.3,290.2 L299.9,300.0" stroke="#3a3a3a" stroke-width="0.95" fill="none"/>
<path d="M328.1,290.2 L333.8,285.7 L341.6,283.5" stroke="#3a3a3a" stroke-width="0.95" fill="none"/>
<path d="M347.3,288.0 L341.6,300.0 L338.3,302.7" stroke="#3a3a3a" stroke-width="0.95" fill="none"/>
<path d="M234.5,291.4 L243.5,286.9 L249.2,285.8 L257.1,292.6" stroke="#3a3a3a" stroke-width="0.95" fill="none"/>
<path d="M250.3,321.9 L258.2,318.5 L266.1,317.4 L269.5,321.9 L270.6,328.6 L268.3,333.2" stroke="#3a3a3a" stroke-width="0.95" fill="none"/>
<path d="M269.5,326.4 L277.4,325.3 L284.1,321.9 L288.6,317.4 L286.4,310.6 L290.9,303.8 L293.2,300.4 L298.8,299.3 L302.2,301.6 L308.9,301.6 L313.5,305.0 L320.2,306.1 L327.0,307.2 L331.5,303.8 L338.3,302.7" stroke="#3a3a3a" stroke-width="0.95" fill="none"/>
<path d="M296.5,347.8 L297.7,343.3 L303.3,336.5 L311.2,334.3 L320.2,336.5 L324.7,338.8 L325.9,330.9 L331.5,324.1 L333.8,316.2 L336.0,309.5 L338.3,302.7" stroke="#3a3a3a" stroke-width="0.95" fill="none"/>
<path d="M328.1,330.9 L331.5,337.7 L338.3,334.3 L342.8,330.9 L349.5,332.0 L356.3,337.7 L360.8,344.4 L367.6,347.8 L368.7,353.5 L372.1,360.2 L375.5,368.1 L380.0,378.0" stroke="#3a3a3a" stroke-width="0.95" fill="none"/>
<path d="M338.3,302.7 L345.0,301.6 L349.5,307.2 L354.1,306.1 L359.7,311.7 L365.3,314.0 L372.1,312.9 L380.0,315.1 L390.0,316.0 L398.0,310.0" stroke="#3a3a3a" stroke-width="0.95" fill="none"/>
<path d="M348.4,317.4 L352.9,315.1 L356.3,324.1 L349.5,326.4 L348.4,317.4" stroke="#3a3a3a" stroke-width="0.95" fill="none"/>
<path d="M354.1,328.6 L361.9,326.4 L363.1,335.4 L359.7,337.7" stroke="#3a3a3a" stroke-width="0.95" fill="none"/>
<path d="M363.1,312.9 L365.3,319.6 L372.1,320.8 L376.6,317.4" stroke="#3a3a3a" stroke-width="0.95" fill="none"/>
<path d="M297.7,270.0 L299.9,283.5 L302.2,292.6 L299.9,299.3" stroke="#3a3a3a" stroke-width="0.95" fill="none"/>
<path d="M278.5,283.5 L286.4,280.2 L288.6,274.5" stroke="#3a3a3a" stroke-width="0.95" fill="none"/>
<path d="M258.2,290.3 L260.4,281.3 L267.2,279.0 L272.9,283.5 L278.5,283.5" stroke="#3a3a3a" stroke-width="0.95" fill="none"/>
<path d="M351.8,333.2 L354.1,339.9 L356.3,348.9 L365.3,351.2" stroke="#3a3a3a" stroke-width="0.95" fill="none"/>
<path d="M387.1,300.0 L387.1,312.4 L392.1,319.9 L394.6,331.0 L399.6,332.3" stroke="#3a3a3a" stroke-width="0.95" fill="none"/>
<path d="M366.0,347.0 L381.0,342.2 L389.6,341.0 L394.6,336.0 L399.6,332.3 L402.0,337.2 L407.0,341.0 L414.4,342.2 L419.4,349.6 L426.8,353.3 L429.3,349.6 L439.3,348.4 L446.7,345.9 L451.7,347.1" stroke="#3a3a3a" stroke-width="0.95" fill="none"/>
<path d="M368.5,349.6 L371.0,359.6 L376.0,365.8 L374.7,372.0 L372.3,377.0 L367.3,379.4" stroke="#3a3a3a" stroke-width="0.95" fill="none"/>
<path d="M428.0,349.6 L434.3,357.0 L436.8,359.6 L451.7,359.6" stroke="#3a3a3a" stroke-width="0.95" fill="none"/>
<path d="M451.7,338.5 L452.9,349.6 L459.1,355.8 L455.4,362.0 L451.7,369.5 L452.9,379.4" stroke="#3a3a3a" stroke-width="0.95" fill="none"/>
<path d="M459.1,355.8 L472.8,351.3 L479.2,340.6 L485.7,342.8 L492.0,340.6 L500.6,338.5" stroke="#3a3a3a" stroke-width="0.95" fill="none"/>
<path d="M500.6,325.7 L497.4,336.4 L497.4,353.5" stroke="#3a3a3a" stroke-width="0.95" fill="none"/>
<path d="M516.0,285.0 L524.2,289.3 L537.0,297.8 L540.3,304.2" stroke="#3a3a3a" stroke-width="0.95" fill="none"/>
<path d="M540.3,304.2 L541.3,321.4 L543.5,338.5" stroke="#3a3a3a" stroke-width="0.95" fill="none"/>
<path d="M540.3,304.2 L554.2,295.7 L567.0,282.8 L569.5,272.0 L569.2,261.4" stroke="#3a3a3a" stroke-width="0.95" fill="none"/>
<path d="M43.5,43.5 L83.0,44.0 L84.0,45.0 L114.4,63.0 L144.2,76.6 L193.8,77.6 L193.8,69.5 L219.4,70.5 L226.8,73.6 L235.5,81.0 L244.2,89.8 L249.2,96.0 L251.6,103.4 L256.6,113.3 L264.0,119.5 L271.5,124.5 L277.7,127.0 L282.6,122.0 L288.8,112.0 L295.0,110.2 L300.0,112.0 L309.0,112.6 L322.5,124.0 L330.0,138.0 L338.0,153.0 L345.0,167.0 L352.0,178.0 L362.0,182.0 L374.4,186.0 L386.8,188.0 L382.0,200.0 L379.0,214.0 L377.5,230.0 L377.9,258.5 L384.0,271.0 L386.5,277.0 L389.0,290.8 L396.5,302.0 L406.4,314.4 L414.4,326.0 L426.8,331.0 L436.8,334.7 L443.0,339.7 L451.7,338.5 L464.0,333.5 L476.4,329.2 L488.8,326.0 L500.0,322.3 L511.3,310.7 L515.6,282.8 L516.7,278.5 L526.3,274.3 L550.0,264.6 L569.2,261.4 L578.8,260.3 L582.4,266.8 L577.7,278.5 L571.3,295.7 L572.4,306.4 L570.2,310.7 L568.1,330.0 L545.6,337.4 L543.5,338.5 L510.3,341.7 L510.3,353.5 L497.4,353.5 L523.1,369.6 L523.1,376.0 L496.4,379.2 L492.0,387.8 L492.0,409.2 L491.3,409.2 L482.6,401.7 L470.2,391.8 L459.1,383.1 L449.2,379.4 L434.3,379.4 L419.4,386.8 L407.0,391.2 L394.6,386.8 L382.2,385.6 L367.3,379.4 L352.4,373.2 L338.0,370.0 L318.0,358.0 L297.0,347.0 L270.0,338.0 L255.0,330.0 L245.4,320.0 L236.0,308.0 L232.0,297.7 L238.6,284.0 L237.0,268.0 L234.0,254.8 L224.3,250.0 L216.9,236.8 L209.5,226.8 L199.5,217.0 L189.6,207.0 L177.2,193.3 L167.3,188.4 L166.0,176.0 L159.8,163.6 L147.4,156.1 L144.2,144.2 L136.8,136.8 L129.3,124.3 L121.9,112.0 L114.4,98.3 L109.5,87.1 L109.5,76.0 L100.8,72.9 L93.3,68.5 L83.4,62.3 L79.7,56.0 L81.0,48.0Z" fill="none" stroke="#333" stroke-width="0.9"/>
<path d="M43.7,43.7 L84.0,43.7 L79.7,50.0 L79.0,61.0 L81.0,73.5 L79.7,89.6 L83.4,102.0 L92.0,114.4 L100.8,126.8 L109.5,139.0 L112.0,143.7 L123.0,161.0 L133.1,180.0 L133.9,184.7 L136.3,190.3 L138.7,195.8 L141.0,200.5 L143.4,204.5 L141.8,209.2 L142.6,213.9 L145.0,217.9 L148.1,218.7 L150.5,216.3 L155.2,217.1 L158.4,222.6 L160.0,227.3 L162.3,231.3 L164.7,235.2 L163.9,240.0 L160.0,243.9 L154.4,245.5 L151.3,241.5 L148.9,233.6 L142.6,227.3 L135.5,220.2 L129.2,215.5 L123.7,213.9 L116.6,207.6 L115.0,204.5 L117.4,195.8 L118.1,186.0 L113.0,179.0 L107.3,173.7 L93.0,164.0 L80.5,154.0 L69.8,140.5 L75.0,141.0 L88.4,139.0 L87.0,131.8 L81.0,120.6 L73.5,112.0 L63.6,102.0 L57.4,87.0 L54.9,74.7 L50.0,62.3 L46.2,51.0Z" fill="none" stroke="#333" stroke-width="0.9"/>
<path d="M114.4,63.0C113.6,65.4 110.5,73.4 109.5,77.2C108.5,81.0 107.6,83.0 108.2,85.9C108.8,88.8 111.1,92.8 113.2,94.6C115.3,96.4 117.9,97.0 120.6,97.0C123.3,97.0 127.4,95.8 129.3,94.6C131.2,93.4 131.6,91.7 131.8,89.6C132.0,87.5 130.1,84.0 130.5,82.2C130.9,80.4 132.2,79.4 134.3,78.5C136.4,77.6 141.6,76.9 143.0,76.6" stroke="#111" stroke-width="1.7" fill="none"/>
<path d="M142.5,76.0C145.6,76.6 157.8,77.7 161.0,79.8C164.2,81.9 162.7,85.4 161.7,88.5C160.7,91.6 156.4,95.0 154.9,98.5C153.4,102.0 152.2,105.7 152.4,109.6C152.6,113.5 153.2,119.0 156.1,122.0C159.0,125.0 166.1,127.4 169.8,127.6C173.5,127.8 176.2,125.9 178.5,123.3C180.8,120.7 181.6,115.0 183.4,112.1C185.2,109.2 187.1,108.0 189.6,105.9C192.1,103.8 195.8,102.8 198.3,99.7C200.8,96.6 202.6,91.2 204.5,87.3C206.4,83.4 207.2,78.9 209.5,76.1C211.8,73.3 216.7,71.4 218.1,70.5" stroke="#111" stroke-width="1.7" fill="none"/>
<path d="M114.4,63 L144.2,76.6 L193.8,77.6 L193.8,69.5 L219.4,70.5" stroke="#111" stroke-width="1.7" fill="none"/>
<text x="169.9" y="107.10000000000001" text-anchor="middle" font-family="Liberation Sans" font-weight="bold" font-size="9.5" fill="#222">L</text>
<text x="93.2" y="148.89999999999998" text-anchor="middle" font-family="Liberation Sans" font-weight="bold" font-size="9.5" fill="#222">SL</text>
<text x="203.7" y="183.39999999999998" text-anchor="middle" font-family="Liberation Sans" font-weight="bold" font-size="9.5" fill="#222">SL</text>
<text x="267.3" y="185.0" text-anchor="middle" font-family="Liberation Sans" font-weight="bold" font-size="9.5" fill="#222">SL</text>
<text x="269.1" y="129.7" text-anchor="middle" font-family="Liberation Sans" font-weight="bold" font-size="9.5" fill="#222">L</text>
<text x="353.7" y="269.3" text-anchor="middle" font-family="Liberation Sans" font-weight="bold" font-size="9.5" fill="#222">SL</text>
<text x="279.2" y="293.5" text-anchor="middle" font-family="Liberation Sans" font-weight="bold" font-size="9.5" fill="#222">L</text>
<text x="315.8" y="330.7" text-anchor="middle" font-family="Liberation Sans" font-weight="bold" font-size="9.5" fill="#222">L</text>
</g>
<g transform="translate(-1,430)" clip-path="url(#box2)">
<path d="M386.1,185.8 L383.2,172.6 L381.0,163.8 L381.7,156.5 L386.1,147.7 L393.5,138.9 L400.8,133.0 L411.0,128.6 L418.4,122.8 L424.2,115.4 L431.6,112.5 L440.4,108.8 L452.1,107.4 L466.7,111.0 L475.5,106.6 L481.4,109.6 L488.7,115.4 L496.1,116.9 L503.4,112.5 L509.3,109.6 L516.6,111.0 L523.9,114.0 L516.6,106.6 L515.1,99.3 L512.2,94.9 L521.0,90.5 L531.2,89.0 L541.5,87.6 L541.5,81.7 L544.4,89.0 L553.2,86.1 L567.9,83.9 L582.5,86.1 L588.4,94.9" stroke="#aaaaaa" stroke-width="0.7" fill="none"/>
<path d="M545.6,337.4 L545.6,377.0 L562.7,377.0 L569.2,360.0 L568.1,330.0" stroke="#cfcfcf" stroke-width="0.8" fill="none"/>
<path d="M545.6,377.0 L558.5,390.0 L550.0,404.9 L547.8,411.3 L532.8,419.9 L510.0,416.0 L492.0,409.2" stroke="#cfcfcf" stroke-width="0.8" fill="none"/>
<path d="M550.0,404.9 L575.6,415.6 L588.4,413.4" stroke="#cfcfcf" stroke-width="0.8" fill="none"/>
<path d="M562.7,377.0 L588.4,375.0" stroke="#cfcfcf" stroke-width="0.8" fill="none"/>
<path d="M43.5,43.5 L83.0,44.0 L84.0,45.0 L114.4,63.0 L144.2,76.6 L193.8,77.6 L193.8,69.5 L219.4,70.5 L226.8,73.6 L235.5,81.0 L244.2,89.8 L249.2,96.0 L251.6,103.4 L256.6,113.3 L264.0,119.5 L271.5,124.5 L277.7,127.0 L282.6,122.0 L288.8,112.0 L295.0,110.2 L300.0,112.0 L309.0,112.6 L322.5,124.0 L330.0,138.0 L338.0,153.0 L345.0,167.0 L352.0,178.0 L362.0,182.0 L374.4,186.0 L386.8,188.0 L382.0,200.0 L379.0,214.0 L377.5,230.0 L377.9,258.5 L384.0,271.0 L386.5,277.0 L389.0,290.8 L396.5,302.0 L406.4,314.4 L414.4,326.0 L426.8,331.0 L436.8,334.7 L443.0,339.7 L451.7,338.5 L464.0,333.5 L476.4,329.2 L488.8,326.0 L500.0,322.3 L511.3,310.7 L515.6,282.8 L516.7,278.5 L526.3,274.3 L550.0,264.6 L569.2,261.4 L578.8,260.3 L582.4,266.8 L577.7,278.5 L571.3,295.7 L572.4,306.4 L570.2,310.7 L568.1,330.0 L545.6,337.4 L543.5,338.5 L510.3,341.7 L510.3,353.5 L497.4,353.5 L523.1,369.6 L523.1,376.0 L496.4,379.2 L492.0,387.8 L492.0,409.2 L491.3,409.2 L482.6,401.7 L470.2,391.8 L459.1,383.1 L449.2,379.4 L434.3,379.4 L419.4,386.8 L407.0,391.2 L394.6,386.8 L382.2,385.6 L367.3,379.4 L352.4,373.2 L338.0,370.0 L318.0,358.0 L297.0,347.0 L270.0,338.0 L255.0,330.0 L245.4,320.0 L236.0,308.0 L232.0,297.7 L238.6,284.0 L237.0,268.0 L234.0,254.8 L224.3,250.0 L216.9,236.8 L209.5,226.8 L199.5,217.0 L189.6,207.0 L177.2,193.3 L167.3,188.4 L166.0,176.0 L159.8,163.6 L147.4,156.1 L144.2,144.2 L136.8,136.8 L129.3,124.3 L121.9,112.0 L114.4,98.3 L109.5,87.1 L109.5,76.0 L100.8,72.9 L93.3,68.5 L83.4,62.3 L79.7,56.0 L81.0,48.0Z" fill="#b8b8b8"/>
<path d="M43.7,43.7 L84.0,43.7 L79.7,50.0 L79.0,61.0 L81.0,73.5 L79.7,89.6 L83.4,102.0 L92.0,114.4 L100.8,126.8 L109.5,139.0 L112.0,143.7 L123.0,161.0 L133.1,180.0 L133.9,184.7 L136.3,190.3 L138.7,195.8 L141.0,200.5 L143.4,204.5 L141.8,209.2 L142.6,213.9 L145.0,217.9 L148.1,218.7 L150.5,216.3 L155.2,217.1 L158.4,222.6 L160.0,227.3 L162.3,231.3 L164.7,235.2 L163.9,240.0 L160.0,243.9 L154.4,245.5 L151.3,241.5 L148.9,233.6 L142.6,227.3 L135.5,220.2 L129.2,215.5 L123.7,213.9 L116.6,207.6 L115.0,204.5 L117.4,195.8 L118.1,186.0 L113.0,179.0 L107.3,173.7 L93.0,164.0 L80.5,154.0 L69.8,140.5 L75.0,141.0 L88.4,139.0 L87.0,131.8 L81.0,120.6 L73.5,112.0 L63.6,102.0 L57.4,87.0 L54.9,74.7 L50.0,62.3 L46.2,51.0Z" fill="#b8b8b8"/>
<g clip-path="url(#mx)">
<path d="M81.0,40.0 L231.0,60.0 L301.0,105.0 L351.0,140.0 L341.0,155.0 L329.8,144.3 L311.3,156.8 L301.0,160.0 L291.5,166.3 L291.5,199.5 L278.9,204.2 L269.4,205.8 L247.3,220.0 L231.5,221.6 L234.7,240.5 L244.1,254.7 L255.2,261.0 L251.0,270.0 L236.0,275.0 L216.0,260.0 L201.0,260.0 L186.0,240.0 L171.0,225.0 L156.0,205.0 L146.0,185.0 L136.0,165.0 L126.0,145.0 L116.0,128.0 L106.0,110.0 L96.0,90.0 L86.0,70.0 L82.0,48.0Z" fill="#ffff33"/>
<path d="M206.0,260.0 L227.8,220.0 L232.6,235.8 L243.6,246.8 L248.4,256.3 L257.8,259.5 L267.3,256.3 L279.9,259.5 L283.0,272.0 L289.4,281.6 L298.9,276.8 L306.0,273.0 L319.0,270.0 L323.0,253.0 L334.0,252.0 L341.0,270.0 L347.0,256.0 L361.0,254.0 L366.0,260.0 L369.0,275.0 L376.0,290.0 L386.0,305.0 L398.0,318.0 L406.0,322.0 L426.0,335.0 L444.0,342.0 L453.0,360.0 L453.0,376.0 L441.0,400.0 L301.0,380.0 L216.0,310.0Z" fill="#ffff33"/>
<path d="M101.0,95.0C101.5,92.6 109.7,100.6 114.2,100.7C118.7,100.8 124.3,97.2 127.8,95.8C131.3,94.3 133.2,92.0 135.3,92.0C137.4,92.0 139.8,93.7 140.2,95.8C140.6,97.9 138.6,101.2 137.8,104.5C137.0,107.8 135.5,111.7 135.3,115.6C135.1,119.5 136.7,125.1 136.5,128.0C136.3,130.9 135.8,131.0 134.0,133.0C132.2,135.0 129.8,143.0 126.0,140.0C122.2,137.0 115.2,122.5 111.0,115.0C106.8,107.5 100.5,97.4 101.0,95.0Z" fill="#b8b8b8"/>
<path d="M167.5,136.7C168.5,134.0 174.3,131.5 177.0,129.0C179.7,126.5 181.4,124.6 183.6,121.8C185.8,118.9 187.2,113.8 189.9,111.9C192.6,110.0 196.3,109.8 199.6,110.2C202.9,110.7 207.1,112.0 209.5,114.6C211.9,117.2 213.4,121.6 213.9,125.7C214.4,129.8 213.9,135.9 212.6,139.4C211.2,142.9 209.0,145.1 205.8,146.8C202.6,148.4 197.5,149.5 193.4,149.3C189.3,149.1 184.7,146.3 181.0,145.6C177.3,144.9 173.2,146.5 171.0,145.0C168.8,143.5 166.5,139.4 167.5,136.7Z" fill="#b8b8b8"/>
<path d="M184.1,171.0C185.2,170.2 189.4,170.5 190.5,172.6C191.6,174.7 191.3,181.3 190.5,183.7C189.7,186.1 186.8,187.8 185.7,186.8C184.6,185.7 184.4,180.0 184.1,177.4C183.8,174.8 183.0,171.8 184.1,171.0Z" fill="#b8b8b8"/>
<path d="M203.1,196.3C204.2,195.8 208.1,197.8 209.4,201.0C210.7,204.2 211.5,212.6 211.0,215.2C210.5,217.8 207.5,218.6 206.2,216.8C204.9,215.0 203.6,207.6 203.1,204.2C202.6,200.8 202.0,196.8 203.1,196.3Z" fill="#b8b8b8"/>
<path d="M216.0,275.0C217.7,270.3 227.2,278.2 233.0,280.0C238.8,281.8 247.7,283.7 251.0,286.0C254.3,288.3 252.7,290.3 253.0,294.0C253.3,297.7 254.3,305.0 253.0,308.0C251.7,311.0 247.7,311.3 245.0,312.0C242.3,312.7 240.7,312.7 237.0,312.0C233.3,311.3 226.5,314.2 223.0,308.0C219.5,301.8 214.3,279.7 216.0,275.0Z" fill="#b8b8b8"/>
<path d="M256.0,318.0C257.3,315.7 266.0,320.5 271.0,320.0C276.0,319.5 282.7,314.2 286.0,315.0C289.3,315.8 291.3,321.2 291.0,325.0C290.7,328.8 286.5,335.5 284.0,338.0C281.5,340.5 279.5,340.7 276.0,340.0C272.5,339.3 266.3,337.7 263.0,334.0C259.7,330.3 254.7,320.3 256.0,318.0Z" fill="#b8b8b8"/>
<path d="M397.0,330.0C399.3,324.7 407.3,326.3 411.0,328.0C414.7,329.7 417.7,334.7 419.0,340.0C420.3,345.3 419.7,354.0 419.0,360.0C418.3,366.0 417.7,373.0 415.0,376.0C412.3,379.0 406.0,380.7 403.0,378.0C400.0,375.3 398.0,368.0 397.0,360.0C396.0,352.0 394.7,335.3 397.0,330.0Z" fill="#b8b8b8"/>
<path d="M106.0,55.0C112.3,53.8 140.3,66.7 146.0,70.0C151.7,73.3 142.8,72.9 140.2,74.7C137.6,76.5 133.6,79.2 130.3,80.9C127.0,82.5 123.3,84.2 120.4,84.6C117.5,85.0 115.1,84.6 113.0,83.4C110.9,82.2 109.2,81.9 108.0,77.2C106.8,72.5 99.7,56.2 106.0,55.0Z" fill="#fcd37f"/>
<path d="M109.0,58.0C113.9,58.8 137.0,69.0 141.0,72.0C145.0,75.0 135.8,75.1 132.8,76.0C129.8,76.9 125.8,77.8 122.9,77.2C120.0,76.6 117.3,73.8 115.4,72.2C113.5,70.5 112.8,69.7 111.7,67.3C110.6,64.9 104.1,57.2 109.0,58.0Z" fill="#e39a26"/>
<path d="M151.0,75.0C157.0,73.8 184.0,76.5 191.0,75.0C198.0,73.5 187.7,67.5 193.0,66.0C198.3,64.5 218.6,65.1 223.0,66.0C227.4,66.9 220.7,68.5 219.5,71.2C218.3,73.9 217.8,79.0 215.7,82.3C213.6,85.6 210.3,89.1 207.0,91.0C203.7,92.9 199.4,93.5 195.9,93.5C192.4,93.5 188.4,91.6 186.0,91.0C183.6,90.4 184.7,90.3 181.2,89.6C177.7,89.0 169.3,88.4 165.0,87.1C160.7,85.9 157.4,84.1 155.1,82.1C152.8,80.1 145.0,76.2 151.0,75.0Z" fill="#fcd37f"/>
<path d="M172.5,78.4C174.8,77.8 190.2,80.5 193.6,78.4C197.0,76.3 191.3,68.1 193.0,66.0C194.7,63.9 202.3,65.1 204.0,66.0C205.7,66.9 203.6,69.3 203.3,71.2C203.0,73.1 203.6,75.5 202.1,77.4C200.6,79.2 197.3,81.3 194.6,82.3C191.9,83.3 188.4,83.6 186.0,83.6C183.6,83.6 182.2,83.0 179.9,82.1C177.7,81.2 170.2,79.0 172.5,78.4Z" fill="#e39a26"/>
<path d="M236.0,75.0C238.0,75.8 246.5,84.2 251.0,90.0C255.5,95.8 258.0,104.2 263.0,110.0C268.0,115.8 278.9,122.0 281.0,125.0C283.1,128.0 277.5,126.6 275.3,128.2C273.1,129.8 271.1,134.2 267.8,134.4C264.5,134.6 259.1,131.2 255.4,129.5C251.7,127.9 247.6,127.4 245.5,124.5C243.4,121.6 243.6,116.7 243.0,112.1C242.4,107.6 242.5,101.7 241.8,97.2C241.1,92.7 240.0,88.7 239.0,85.0C238.0,81.3 234.0,74.2 236.0,75.0Z" fill="#fcd37f"/>
<path d="M239.0,80.0C240.1,79.4 247.7,86.2 251.0,90.0C254.3,93.8 256.3,99.0 259.0,103.0C261.7,107.0 263.3,110.7 267.0,114.0C270.7,117.3 279.6,120.6 281.0,123.0C282.4,125.4 277.9,127.1 275.3,128.2C272.7,129.3 269.4,130.5 265.3,129.5C261.2,128.5 253.4,124.5 250.5,122.0C247.6,119.5 248.6,117.5 248.0,114.6C247.4,111.7 247.3,108.2 246.7,104.7C246.1,101.2 245.6,97.6 244.3,93.5C243.0,89.4 237.9,80.6 239.0,80.0Z" fill="#e39a26"/>
<path d="M251.7,100.2C252.7,100.2 254.4,104.0 257.0,107.0C259.6,110.0 266.0,115.7 267.0,118.0C268.0,120.3 265.2,121.2 263.0,121.0C260.8,120.8 256.0,118.8 254.0,116.5C252.0,114.2 251.5,109.8 251.1,107.1C250.7,104.4 250.7,100.2 251.7,100.2Z" fill="#e60000"/>
<path d="M220.4,130.0C220.6,133.3 220.4,140.8 222.0,145.8C223.6,150.8 227.3,156.3 229.9,160.0C232.5,163.7 236.8,165.5 237.8,167.9C238.9,170.3 238.6,173.3 236.2,174.2C233.8,175.1 227.5,172.9 223.6,173.4C219.7,173.9 215.1,174.6 212.6,177.4C210.1,180.2 208.6,185.5 208.6,190.0C208.6,194.5 210.1,199.7 212.6,204.2C215.1,208.7 217.8,214.2 223.6,216.8C229.4,219.4 240.7,221.0 247.3,220.0C253.9,219.0 258.9,213.9 263.1,210.5C267.3,207.1 270.7,204.2 272.5,199.5C274.3,194.8 274.1,186.9 274.1,182.1C274.1,177.4 273.6,174.4 272.5,171.0C271.4,167.6 268.3,165.8 267.8,161.6C267.3,157.4 268.6,150.0 269.4,145.8C270.2,141.6 272.5,139.3 272.5,136.3C272.5,133.3 271.0,130.5 269.4,128.0C267.8,125.5 265.7,122.8 263.0,121.0C260.3,119.2 256.7,118.2 253.0,117.5C249.3,116.8 245.0,116.6 241.0,117.0C237.0,117.4 232.3,118.5 229.0,120.0C225.7,121.5 222.4,124.3 221.0,126.0C219.6,127.7 220.2,126.7 220.4,130.0Z" fill="#fcd37f"/>
<path d="M235.6,129.5C237.5,127.2 241.4,121.6 245.5,120.8C249.6,120.0 256.7,122.2 260.4,124.5C264.1,126.8 267.4,131.1 267.8,134.4C268.2,137.7 265.0,141.0 262.9,144.3C260.8,147.6 257.5,151.0 255.4,154.3C253.3,157.6 252.6,163.0 250.5,164.2C248.4,165.4 245.1,163.8 243.0,161.7C240.9,159.6 239.1,155.1 238.1,151.8C237.1,148.5 237.4,144.8 236.8,141.9C236.2,139.0 234.5,136.5 234.3,134.4C234.1,132.3 233.7,131.8 235.6,129.5Z" fill="#e39a26"/>
<path d="M218.9,190.0C220.3,187.9 224.9,184.2 228.3,183.7C231.7,183.2 237.8,185.5 239.4,186.8C241.0,188.1 239.1,190.6 237.8,191.6C236.5,192.7 232.8,192.1 231.5,193.1C230.2,194.2 231.2,196.6 229.9,197.9C228.6,199.2 225.3,201.3 223.6,201.0C221.9,200.7 220.5,198.1 219.7,196.3C218.9,194.5 217.5,192.1 218.9,190.0Z" fill="#e39a26"/>
<path d="M248.9,201.0C250.5,198.9 255.7,193.9 258.3,193.1C260.9,192.3 263.8,194.4 264.6,196.3C265.4,198.1 264.9,202.4 263.1,204.2C261.3,206.0 256.0,207.0 253.6,207.3C251.2,207.6 249.7,206.8 248.9,205.8C248.1,204.7 247.3,203.1 248.9,201.0Z" fill="#e39a26"/>
<path d="M235.0,203.0C235.7,200.3 239.2,198.0 241.0,200.0C242.8,202.0 246.4,212.5 245.7,215.2C245.0,217.9 238.8,218.0 237.0,216.0C235.2,214.0 234.3,205.7 235.0,203.0Z" fill="#ffff33"/>
<path d="M275.3,129.5C275.9,128.1 281.9,128.2 284.0,125.7C286.1,123.2 285.9,118.1 287.7,114.6C289.5,111.2 291.1,106.6 295.0,105.0C298.9,103.4 305.0,101.7 311.0,105.0C317.0,108.3 326.7,118.8 331.0,125.0C335.3,131.2 337.2,139.2 337.0,142.0C336.8,144.8 333.1,141.1 329.8,141.9C326.5,142.7 321.5,145.1 317.4,146.8C313.3,148.4 309.1,151.6 305.0,151.8C300.9,152.0 296.0,150.6 292.7,148.1C289.4,145.6 287.3,139.2 285.2,136.9C283.1,134.6 281.8,135.6 280.2,134.4C278.6,133.2 274.7,130.9 275.3,129.5Z" fill="#fcd37f"/>
<path d="M309.0,120.0C309.7,117.3 315.3,114.3 319.0,116.0C322.7,117.7 328.0,125.2 331.0,130.0C334.0,134.8 338.4,143.4 337.0,145.0C335.6,146.6 326.1,141.6 322.4,139.4C318.7,137.2 317.2,135.2 315.0,132.0C312.8,128.8 308.3,122.7 309.0,120.0Z" fill="#e39a26"/>
<path d="M199.5,214.0C199.3,212.0 202.4,211.8 204.0,212.5C205.6,213.2 207.6,215.9 209.0,218.0C210.4,220.1 212.3,223.3 212.5,225.0C212.7,226.7 211.2,228.1 210.0,228.0C208.8,227.9 206.8,226.8 205.0,224.5C203.2,222.2 199.7,216.0 199.5,214.0Z" fill="#fcd37f"/>
<path d="M227.0,235.5C227.3,234.2 230.1,234.2 231.0,235.0C231.9,235.8 232.8,238.8 232.5,240.0C232.2,241.2 229.9,243.2 229.0,242.5C228.1,241.8 226.7,236.8 227.0,235.5Z" fill="#fcd37f"/>
<path d="M167.0,153.0C168.8,151.3 175.3,150.7 179.0,151.0C182.7,151.3 187.5,152.7 189.0,155.0C190.5,157.3 190.0,163.2 188.0,165.0C186.0,166.8 180.3,166.7 177.0,166.0C173.7,165.3 169.7,163.2 168.0,161.0C166.3,158.8 165.2,154.7 167.0,153.0Z" fill="#fcd37f"/>
<path d="M54.0,38.0C58.8,36.0 81.5,36.2 86.0,38.0C90.5,39.8 82.6,46.4 80.7,48.6C78.8,50.8 76.0,49.7 74.5,51.1C73.0,52.6 72.2,55.0 72.0,57.3C71.8,59.6 72.9,61.9 73.3,64.8C73.7,67.7 74.9,72.0 74.5,74.7C74.1,77.4 72.2,80.1 70.8,80.9C69.3,81.7 67.2,81.1 65.8,79.7C64.3,78.2 63.1,75.5 62.1,72.2C61.1,68.9 60.4,63.5 59.6,59.8C58.8,56.1 58.0,53.5 57.1,49.9C56.2,46.3 49.2,40.0 54.0,38.0Z" fill="#ffff33"/>
<path d="M73.9,142.8C76.2,143.5 90.5,152.9 94.2,156.3C98.0,159.7 97.2,162.0 96.4,163.1C95.7,164.2 92.3,165.0 89.7,163.1C87.1,161.2 83.2,155.2 80.6,151.8C78.0,148.4 71.6,142.0 73.9,142.8Z" fill="#ffff33"/>
<path d="M107.7,151.8C109.2,151.0 114.1,153.7 116.7,156.3C119.3,158.9 122.8,164.6 123.5,167.6C124.2,170.6 123.1,174.0 121.2,174.4C119.3,174.8 114.5,172.2 112.2,169.9C110.0,167.6 108.5,163.8 107.7,160.8C107.0,157.8 106.2,152.5 107.7,151.8Z" fill="#ffff33"/>
<path d="M128.0,187.9C129.1,186.4 134.4,188.6 137.0,192.4C139.6,196.2 143.4,207.1 143.8,210.5C144.2,213.9 141.6,214.2 139.3,212.7C137.1,211.2 132.2,205.5 130.3,201.4C128.4,197.3 126.9,189.4 128.0,187.9Z" fill="#ffff33"/>
<path d="M259.0,273.7C259.8,271.9 264.1,271.6 266.0,272.0C267.9,272.4 270.0,274.2 270.5,276.0C271.0,277.8 270.6,281.8 269.0,283.0C267.4,284.2 262.7,284.6 261.0,283.0C259.3,281.4 258.2,275.5 259.0,273.7Z" fill="#fcd37f"/>
<path d="M265.7,294.2C267.5,293.4 276.5,294.5 279.9,295.8C283.3,297.1 285.9,300.0 286.2,302.1C286.5,304.2 283.1,306.6 281.5,308.4C279.9,310.2 278.4,313.1 276.8,313.1C275.2,313.1 273.3,310.5 272.0,308.4C270.7,306.3 269.9,302.9 268.9,300.5C267.8,298.1 263.9,295.0 265.7,294.2Z" fill="#fcd37f"/>
<path d="M326.0,258.0C326.8,255.8 330.8,255.2 332.0,257.0C333.2,258.8 333.8,266.8 333.0,269.0C332.2,271.2 328.2,271.8 327.0,270.0C325.8,268.2 325.2,260.2 326.0,258.0Z" fill="#fcd37f"/>
<path d="M350.0,264.0C351.0,261.7 355.7,261.7 357.0,264.0C358.3,266.3 359.0,275.7 358.0,278.0C357.0,280.3 352.3,280.3 351.0,278.0C349.7,275.7 349.0,266.3 350.0,264.0Z" fill="#fcd37f"/>
<path d="M281.0,341.4C281.8,333.2 281.8,325.5 286.0,321.0C290.2,316.5 300.2,316.3 306.4,314.3C312.6,312.3 319.1,309.8 323.3,309.2C327.5,308.7 331.0,309.0 331.8,311.0C332.6,313.0 328.4,316.5 328.4,321.0C328.4,325.5 329.0,333.5 331.8,338.0C334.6,342.5 341.4,345.9 345.3,348.1C349.2,350.4 351.4,350.9 355.4,351.5C359.3,352.1 365.6,352.1 369.0,351.5C372.4,350.9 372.3,348.4 375.7,348.0C379.1,347.6 385.9,348.2 389.3,349.0C392.7,349.8 394.3,350.9 396.0,353.0C397.7,355.1 396.9,358.0 399.4,361.7C401.9,365.4 408.1,371.1 411.0,375.0C413.9,378.9 416.7,380.8 417.0,385.3C417.3,389.8 435.7,404.6 413.0,402.0C390.3,399.4 303.0,380.1 281.0,370.0C259.0,359.9 280.2,349.6 281.0,341.4Z" fill="#fcd37f"/>
<path d="M399.4,316.0C401.1,315.7 405.1,320.5 409.6,322.7C414.1,325.0 422.0,327.8 426.5,329.5C431.0,331.2 433.8,330.4 436.6,332.9C439.4,335.4 442.0,340.5 443.4,344.7C444.8,348.9 445.7,354.3 445.1,358.3C444.5,362.2 442.8,366.1 440.0,368.4C437.2,370.6 431.6,372.4 428.2,371.8C424.8,371.2 421.1,368.4 419.7,365.0C418.3,361.6 420.5,356.0 419.7,351.5C418.9,347.0 416.9,341.4 414.6,338.0C412.4,334.6 408.7,333.5 406.2,331.2C403.7,328.9 400.5,326.9 399.4,324.4C398.3,321.9 397.7,316.3 399.4,316.0Z" fill="#fcd37f"/>
<path d="M421.0,332.0C422.8,330.0 430.0,330.2 432.0,332.0C434.0,333.8 434.8,341.0 433.0,343.0C431.2,345.0 423.0,345.8 421.0,344.0C419.0,342.2 419.2,334.0 421.0,332.0Z" fill="#ffff33"/>
<path d="M376.0,267.0C377.5,264.3 383.2,267.5 385.0,270.0C386.8,272.5 387.3,278.3 387.0,282.0C386.7,285.7 384.8,291.3 383.0,292.0C381.2,292.7 377.2,290.2 376.0,286.0C374.8,281.8 374.5,269.7 376.0,267.0Z" fill="#ffff33"/>
<path d="M303.0,289.0C305.0,286.5 312.3,286.5 316.0,287.0C319.7,287.5 323.5,289.3 325.0,292.0C326.5,294.7 327.0,300.5 325.0,303.0C323.0,305.5 316.5,307.2 313.0,307.0C309.5,306.8 305.7,305.0 304.0,302.0C302.3,299.0 301.0,291.5 303.0,289.0Z" fill="#b8b8b8"/>
<path d="M342.0,284.0C343.8,281.8 349.8,281.3 353.0,282.0C356.2,282.7 360.0,285.0 361.0,288.0C362.0,291.0 361.2,297.7 359.0,300.0C356.8,302.3 350.8,302.8 348.0,302.0C345.2,301.2 343.0,298.0 342.0,295.0C341.0,292.0 340.2,286.2 342.0,284.0Z" fill="#b8b8b8"/>
<path d="M352.0,303.0C353.3,299.5 359.2,300.2 363.0,301.0C366.8,301.8 372.8,304.8 375.0,308.0C377.2,311.2 377.3,317.0 376.0,320.0C374.7,323.0 370.5,325.7 367.0,326.0C363.5,326.3 357.5,325.8 355.0,322.0C352.5,318.2 350.7,306.5 352.0,303.0Z" fill="#b8b8b8"/>
<path d="M337.0,330.0C338.8,327.7 344.5,327.0 347.0,328.0C349.5,329.0 351.5,332.5 352.0,336.0C352.5,339.5 351.8,346.3 350.0,349.0C348.2,351.7 343.3,353.2 341.0,352.0C338.7,350.8 336.7,345.7 336.0,342.0C335.3,338.3 335.2,332.3 337.0,330.0Z" fill="#b8b8b8"/>
<path d="M376.0,315.0C377.8,312.8 384.2,312.2 387.0,313.0C389.8,313.8 392.3,316.8 393.0,320.0C393.7,323.2 393.0,329.5 391.0,332.0C389.0,334.5 383.5,336.0 381.0,335.0C378.5,334.0 376.8,329.3 376.0,326.0C375.2,322.7 374.2,317.2 376.0,315.0Z" fill="#b8b8b8"/>
<path d="M298.0,253.0C299.8,250.0 306.8,250.5 311.0,251.0C315.2,251.5 321.2,252.8 323.0,256.0C324.8,259.2 324.0,267.0 322.0,270.0C320.0,273.0 314.7,274.2 311.0,274.0C307.3,273.8 302.2,272.5 300.0,269.0C297.8,265.5 296.2,256.0 298.0,253.0Z" fill="#b8b8b8"/>
<path d="M292.8,334.6C295.6,331.2 300.5,325.2 303.0,324.4C305.5,323.5 306.9,326.1 308.0,329.5C309.1,332.9 307.5,341.0 309.8,344.7C312.1,348.4 317.9,349.5 321.6,351.5C325.3,353.5 327.9,355.5 331.8,356.6C335.8,357.7 341.4,357.7 345.3,358.3C349.2,358.9 352.0,359.4 355.4,360.0C358.8,360.6 362.2,362.6 365.6,361.7C369.0,360.9 372.3,356.0 375.7,354.9C379.1,353.8 383.1,354.0 385.9,354.9C388.7,355.8 390.4,357.8 392.7,360.0C394.9,362.2 396.6,365.3 399.4,368.4C402.2,371.5 407.8,375.8 409.6,378.6C411.4,381.4 410.6,381.7 410.0,385.3C409.4,388.9 425.8,402.6 406.0,400.0C386.2,397.4 311.0,379.2 291.0,370.0C271.0,360.8 285.7,350.9 286.0,345.0C286.3,339.1 290.0,338.0 292.8,334.6Z" fill="#e39a26"/>
<path d="M420.0,347.0C422.3,344.0 428.7,344.2 433.0,344.0C437.3,343.8 443.5,343.3 446.0,346.0C448.5,348.7 448.8,355.5 448.0,360.0C447.2,364.5 444.7,370.8 441.0,373.0C437.3,375.2 429.7,374.8 426.0,373.0C422.3,371.2 420.0,366.3 419.0,362.0C418.0,357.7 417.7,350.0 420.0,347.0Z" fill="#fcd37f"/>
<path d="M426.0,356.0C427.3,354.2 430.5,354.3 434.0,354.0C437.5,353.7 444.8,352.8 447.0,354.0C449.2,355.2 448.7,359.2 447.0,361.0C445.3,362.8 440.5,364.3 437.0,365.0C433.5,365.7 427.8,366.5 426.0,365.0C424.2,363.5 424.7,357.8 426.0,356.0Z" fill="#e39a26"/>
<path d="M368.5,236.0C369.9,233.5 375.9,233.7 377.5,236.0C379.1,238.3 379.4,247.5 378.0,250.0C376.6,252.5 370.6,253.3 369.0,251.0C367.4,248.7 367.1,238.5 368.5,236.0Z" fill="#ffff33"/>
<path d="M468.9,369.8C470.0,366.4 472.7,360.9 475.7,358.5C478.7,356.1 484.0,354.4 487.0,355.1C490.0,355.9 493.3,359.8 493.7,363.0C494.1,366.2 490.7,370.5 489.2,374.3C487.7,378.0 486.9,383.6 484.7,385.5C482.4,387.4 478.3,386.6 475.7,385.5C473.1,384.4 470.0,381.4 468.9,378.8C467.8,376.2 467.8,373.2 468.9,369.8Z" fill="#ffff33"/>
<path d="M509.5,361.9C511.6,360.8 518.5,367.5 520.8,369.8C523.0,372.0 525.1,374.3 523.0,375.4C520.9,376.5 510.6,378.8 508.4,376.5C506.1,374.2 507.4,363.0 509.5,361.9Z" fill="#ffff33"/>
<path d="M547.8,324.7C549.3,319.1 555.7,306.4 559.1,302.1C562.5,297.8 565.8,298.0 568.1,298.8C570.4,299.5 573.0,301.5 573.0,306.6C573.0,311.7 570.1,325.8 568.1,329.2C566.1,332.6 564.3,325.9 561.3,327.0C558.3,328.1 552.4,336.4 550.1,336.0C547.9,335.6 546.3,330.4 547.8,324.7Z" fill="#ffff33"/>
<ellipse cx="361.5" cy="366.5" rx="7.5" ry="5" fill="#e60000"/>
<ellipse cx="382" cy="376.5" rx="4.5" ry="3.6" fill="#e60000"/>
<ellipse cx="388.5" cy="375.5" rx="4.5" ry="3.8" fill="#e60000"/>
<path d="M379.5,193 L382.5,192.5 L380.5,205 L379,218 L378.5,230 L377,229 L377.3,215 L378.2,202Z" fill="#fff"/>
</g>
<path d="M69.8,140.5 L110.0,139.0" stroke="#3a3a3a" stroke-width="0.95" fill="none"/>
<path d="M182.4,79.2 L186.9,100.5 L184.6,114.0 L185.8,136.6 L176.8,138.9 L179.0,150.1 L183.5,163.6" stroke="#3a3a3a" stroke-width="0.95" fill="none"/>
<path d="M160.0,166.0 L172.0,165.0 L183.5,163.6" stroke="#3a3a3a" stroke-width="0.95" fill="none"/>
<path d="M183.5,163.6 L192.5,170.4 L194.8,179.4 L206.0,186.2 L206.0,192.9 L212.8,195.2 L208.3,199.7 L215.0,213.2 L224.1,222.2 L230.8,235.8 L235.3,247.0 L240.0,252.0" stroke="#3a3a3a" stroke-width="0.95" fill="none"/>
<path d="M228.6,170.4 L244.3,177.2 L255.6,174.9 L260.1,170.4 L266.9,170.4" stroke="#3a3a3a" stroke-width="0.95" fill="none"/>
<path d="M275.9,127.6 L266.9,145.6 L266.9,170.4" stroke="#3a3a3a" stroke-width="0.95" fill="none"/>
<path d="M212.8,195.2 L221.8,181.6 L228.6,170.4" stroke="#3a3a3a" stroke-width="0.95" fill="none"/>
<path d="M266.9,170.4 L275.9,179.4 L273.6,199.6 L272.9,200.0 L277.4,206.8 L284.1,211.3 L288.6,206.8 L295.4,205.1 L303.3,207.9 L311.2,212.4 L320.2,215.8 L322.5,216.9" stroke="#3a3a3a" stroke-width="0.95" fill="none"/>
<path d="M331.9,152.5 L325.1,155.9 L321.7,162.7 L322.8,166.1 L326.2,168.3 L322.8,174.0 L315.0,180.7 L319.5,188.6 L325.1,196.5 L330.7,202.2 L322.8,204.4 L321.7,215.7" stroke="#3a3a3a" stroke-width="0.95" fill="none"/>
<path d="M336.4,152.5 L343.1,157.0 L340.9,167.2 L343.1,172.8 L347.6,177.4 L351.0,184.1 L358.9,186.4 L361.2,188.6 L363.4,197.6 L356.7,202.2 L351.0,206.7 L347.6,211.2 L343.1,215.7 L342.0,222.4 L345.4,230.0 L338.3,237.2 L334.9,242.9" stroke="#3a3a3a" stroke-width="0.95" fill="none"/>
<path d="M290.9,210.1 L290.9,218.0 L277.4,219.2 L268.3,224.8 L266.1,233.8 L261.6,242.9 L260.4,251.9 L257.1,259.8 L258.2,267.7 L267.2,277.8 L270.6,283.5 L277.4,285.7 L283.0,282.3 L287.5,278.9" stroke="#3a3a3a" stroke-width="0.95" fill="none"/>
<path d="M322.5,216.9 L318.0,222.6 L313.5,229.3 L306.7,233.8 L297.7,238.3 L295.4,241.7 L296.5,249.6 L302.2,256.4 L308.9,253.0 L312.3,258.6 L311.2,267.7 L308.9,271.0" stroke="#3a3a3a" stroke-width="0.95" fill="none"/>
<path d="M322.5,216.9 L327.0,227.1 L329.2,241.7 L334.9,242.9 L336.0,251.9 L342.8,254.1 L348.4,254.1 L354.1,258.6 L365.3,257.5 L376.6,260.9" stroke="#3a3a3a" stroke-width="0.95" fill="none"/>
<path d="M308.9,269.9 L320.2,273.3 L327.0,276.7 L331.5,274.4 L340.5,276.7 L342.8,281.2 L354.1,278.9 L363.1,278.9 L369.8,283.5 L376.6,290.2" stroke="#3a3a3a" stroke-width="0.95" fill="none"/>
<path d="M230.0,233.8 L234.5,242.9 L241.3,247.4 L245.8,253.0 L252.6,258.6 L257.1,259.8" stroke="#3a3a3a" stroke-width="0.95" fill="none"/>
<path d="M259.3,254.1 L267.2,253.0 L268.3,258.6 L270.6,263.2 L263.8,265.4 L257.1,263.2" stroke="#3a3a3a" stroke-width="0.95" fill="none"/>
<path d="M286.4,263.2 L294.3,258.6 L299.9,263.2 L302.2,268.8 L295.4,273.3 L287.5,272.2 L284.1,268.8" stroke="#3a3a3a" stroke-width="0.95" fill="none"/>
<path d="M236.0,288.0 L239.0,286.8 L246.9,285.7 L252.6,288.0 L257.1,293.6" stroke="#3a3a3a" stroke-width="0.95" fill="none"/>
<path d="M308.9,269.9 L307.8,278.9 L303.3,290.2 L299.9,300.0" stroke="#3a3a3a" stroke-width="0.95" fill="none"/>
<path d="M328.1,290.2 L333.8,285.7 L341.6,283.5" stroke="#3a3a3a" stroke-width="0.95" fill="none"/>
<path d="M347.3,288.0 L341.6,300.0 L338.3,302.7" stroke="#3a3a3a" stroke-width="0.95" fill="none"/>
<path d="M234.5,291.4 L243.5,286.9 L249.2,285.8 L257.1,292.6" stroke="#3a3a3a" stroke-width="0.95" fill="none"/>
<path d="M250.3,321.9 L258.2,318.5 L266.1,317.4 L269.5,321.9 L270.6,328.6 L268.3,333.2" stroke="#3a3a3a" stroke-width="0.95" fill="none"/>
<path d="M269.5,326.4 L277.4,325.3 L284.1,321.9 L288.6,317.4 L286.4,310.6 L290.9,303.8 L293.2,300.4 L298.8,299.3 L302.2,301.6 L308.9,301.6 L313.5,305.0 L320.2,306.1 L327.0,307.2 L331.5,303.8 L338.3,302.7" stroke="#3a3a3a" stroke-width="0.95" fill="none"/>
<path d="M296.5,347.8 L297.7,343.3 L303.3,336.5 L311.2,334.3 L320.2,336.5 L324.7,338.8 L325.9,330.9 L331.5,324.1 L333.8,316.2 L336.0,309.5 L338.3,302.7" stroke="#3a3a3a" stroke-width="0.95" fill="none"/>
<path d="M328.1,330.9 L331.5,337.7 L338.3,334.3 L342.8,330.9 L349.5,332.0 L356.3,337.7 L360.8,344.4 L367.6,347.8 L368.7,353.5 L372.1,360.2 L375.5,368.1 L380.0,378.0" stroke="#3a3a3a" stroke-width="0.95" fill="none"/>
<path d="M338.3,302.7 L345.0,301.6 L349.5,307.2 L354.1,306.1 L359.7,311.7 L365.3,314.0 L372.1,312.9 L380.0,315.1 L390.0,316.0 L398.0,310.0" stroke="#3a3a3a" stroke-width="0.95" fill="none"/>
<path d="M348.4,317.4 L352.9,315.1 L356.3,324.1 L349.5,326.4 L348.4,317.4" stroke="#3a3a3a" stroke-width="0.95" fill="none"/>
<path d="M354.1,328.6 L361.9,326.4 L363.1,335.4 L359.7,337.7" stroke="#3a3a3a" stroke-width="0.95" fill="none"/>
<path d="M363.1,312.9 L365.3,319.6 L372.1,320.8 L376.6,317.4" stroke="#3a3a3a" stroke-width="0.95" fill="none"/>
<path d="M297.7,270.0 L299.9,283.5 L302.2,292.6 L299.9,299.3" stroke="#3a3a3a" stroke-width="0.95" fill="none"/>
<path d="M278.5,283.5 L286.4,280.2 L288.6,274.5" stroke="#3a3a3a" stroke-width="0.95" fill="none"/>
<path d="M258.2,290.3 L260.4,281.3 L267.2,279.0 L272.9,283.5 L278.5,283.5" stroke="#3a3a3a" stroke-width="0.95" fill="none"/>
<path d="M351.8,333.2 L354.1,339.9 L356.3,348.9 L365.3,351.2" stroke="#3a3a3a" stroke-width="0.95" fill="none"/>
<path d="M387.1,300.0 L387.1,312.4 L392.1,319.9 L394.6,331.0 L399.6,332.3" stroke="#3a3a3a" stroke-width="0.95" fill="none"/>
<path d="M366.0,347.0 L381.0,342.2 L389.6,341.0 L394.6,336.0 L399.6,332.3 L402.0,337.2 L407.0,341.0 L414.4,342.2 L419.4,349.6 L426.8,353.3 L429.3,349.6 L439.3,348.4 L446.7,345.9 L451.7,347.1" stroke="#3a3a3a" stroke-width="0.95" fill="none"/>
<path d="M368.5,349.6 L371.0,359.6 L376.0,365.8 L374.7,372.0 L372.3,377.0 L367.3,379.4" stroke="#3a3a3a" stroke-width="0.95" fill="none"/>
<path d="M428.0,349.6 L434.3,357.0 L436.8,359.6 L451.7,359.6" stroke="#3a3a3a" stroke-width="0.95" fill="none"/>
<path d="M451.7,338.5 L452.9,349.6 L459.1,355.8 L455.4,362.0 L451.7,369.5 L452.9,379.4" stroke="#3a3a3a" stroke-width="0.95" fill="none"/>
<path d="M459.1,355.8 L472.8,351.3 L479.2,340.6 L485.7,342.8 L492.0,340.6 L500.6,338.5" stroke="#3a3a3a" stroke-width="0.95" fill="none"/>
<path d="M500.6,325.7 L497.4,336.4 L497.4,353.5" stroke="#3a3a3a" stroke-width="0.95" fill="none"/>
<path d="M516.0,285.0 L524.2,289.3 L537.0,297.8 L540.3,304.2" stroke="#3a3a3a" stroke-width="0.95" fill="none"/>
<path d="M540.3,304.2 L541.3,321.4 L543.5,338.5" stroke="#3a3a3a" stroke-width="0.95" fill="none"/>
<path d="M540.3,304.2 L554.2,295.7 L567.0,282.8 L569.5,272.0 L569.2,261.4" stroke="#3a3a3a" stroke-width="0.95" fill="none"/>
<path d="M43.5,43.5 L83.0,44.0 L84.0,45.0 L114.4,63.0 L144.2,76.6 L193.8,77.6 L193.8,69.5 L219.4,70.5 L226.8,73.6 L235.5,81.0 L244.2,89.8 L249.2,96.0 L251.6,103.4 L256.6,113.3 L264.0,119.5 L271.5,124.5 L277.7,127.0 L282.6,122.0 L288.8,112.0 L295.0,110.2 L300.0,112.0 L309.0,112.6 L322.5,124.0 L330.0,138.0 L338.0,153.0 L345.0,167.0 L352.0,178.0 L362.0,182.0 L374.4,186.0 L386.8,188.0 L382.0,200.0 L379.0,214.0 L377.5,230.0 L377.9,258.5 L384.0,271.0 L386.5,277.0 L389.0,290.8 L396.5,302.0 L406.4,314.4 L414.4,326.0 L426.8,331.0 L436.8,334.7 L443.0,339.7 L451.7,338.5 L464.0,333.5 L476.4,329.2 L488.8,326.0 L500.0,322.3 L511.3,310.7 L515.6,282.8 L516.7,278.5 L526.3,274.3 L550.0,264.6 L569.2,261.4 L578.8,260.3 L582.4,266.8 L577.7,278.5 L571.3,295.7 L572.4,306.4 L570.2,310.7 L568.1,330.0 L545.6,337.4 L543.5,338.5 L510.3,341.7 L510.3,353.5 L497.4,353.5 L523.1,369.6 L523.1,376.0 L496.4,379.2 L492.0,387.8 L492.0,409.2 L491.3,409.2 L482.6,401.7 L470.2,391.8 L459.1,383.1 L449.2,379.4 L434.3,379.4 L419.4,386.8 L407.0,391.2 L394.6,386.8 L382.2,385.6 L367.3,379.4 L352.4,373.2 L338.0,370.0 L318.0,358.0 L297.0,347.0 L270.0,338.0 L255.0,330.0 L245.4,320.0 L236.0,308.0 L232.0,297.7 L238.6,284.0 L237.0,268.0 L234.0,254.8 L224.3,250.0 L216.9,236.8 L209.5,226.8 L199.5,217.0 L189.6,207.0 L177.2,193.3 L167.3,188.4 L166.0,176.0 L159.8,163.6 L147.4,156.1 L144.2,144.2 L136.8,136.8 L129.3,124.3 L121.9,112.0 L114.4,98.3 L109.5,87.1 L109.5,76.0 L100.8,72.9 L93.3,68.5 L83.4,62.3 L79.7,56.0 L81.0,48.0Z" fill="none" stroke="#333" stroke-width="0.9"/>
<path d="M43.7,43.7 L84.0,43.7 L79.7,50.0 L79.0,61.0 L81.0,73.5 L79.7,89.6 L83.4,102.0 L92.0,114.4 L100.8,126.8 L109.5,139.0 L112.0,143.7 L123.0,161.0 L133.1,180.0 L133.9,184.7 L136.3,190.3 L138.7,195.8 L141.0,200.5 L143.4,204.5 L141.8,209.2 L142.6,213.9 L145.0,217.9 L148.1,218.7 L150.5,216.3 L155.2,217.1 L158.4,222.6 L160.0,227.3 L162.3,231.3 L164.7,235.2 L163.9,240.0 L160.0,243.9 L154.4,245.5 L151.3,241.5 L148.9,233.6 L142.6,227.3 L135.5,220.2 L129.2,215.5 L123.7,213.9 L116.6,207.6 L115.0,204.5 L117.4,195.8 L118.1,186.0 L113.0,179.0 L107.3,173.7 L93.0,164.0 L80.5,154.0 L69.8,140.5 L75.0,141.0 L88.4,139.0 L87.0,131.8 L81.0,120.6 L73.5,112.0 L63.6,102.0 L57.4,87.0 L54.9,74.7 L50.0,62.3 L46.2,51.0Z" fill="none" stroke="#333" stroke-width="0.9"/>
<path d="M220.4,130.0C220.6,133.3 220.4,140.8 222.0,145.8C223.6,150.8 227.3,156.3 229.9,160.0C232.5,163.7 236.8,165.5 237.8,167.9C238.9,170.3 238.6,173.3 236.2,174.2C233.8,175.1 227.5,172.9 223.6,173.4C219.7,173.9 215.1,174.6 212.6,177.4C210.1,180.2 208.6,185.5 208.6,190.0C208.6,194.5 210.1,199.7 212.6,204.2C215.1,208.7 217.8,214.2 223.6,216.8C229.4,219.4 240.7,221.0 247.3,220.0C253.9,219.0 258.9,213.9 263.1,210.5C267.3,207.1 270.7,204.2 272.5,199.5C274.3,194.8 274.1,186.9 274.1,182.1C274.1,177.4 273.6,174.4 272.5,171.0C271.4,167.6 268.3,165.8 267.8,161.6C267.3,157.4 268.6,150.0 269.4,145.8C270.2,141.6 272.5,139.3 272.5,136.3C272.5,133.3 271.0,130.5 269.4,128.0C267.8,125.5 265.7,122.8 263.0,121.0C260.3,119.2 256.7,118.2 253.0,117.5C249.3,116.8 245.0,116.6 241.0,117.0C237.0,117.4 232.3,118.5 229.0,120.0C225.7,121.5 222.4,124.3 221.0,126.0C219.6,127.7 220.2,126.7 220.4,130.0Z" stroke="#111" stroke-width="1.7" fill="none"/>
<text x="154.6" y="91.40000000000005" text-anchor="middle" font-family="Liberation Sans" font-weight="bold" font-size="9.5" fill="#222">S</text>
<text x="253.2" y="157.90000000000003" text-anchor="middle" font-family="Liberation Sans" font-weight="bold" font-size="9.5" fill="#222">SL</text>
<text x="294.5" y="130.2" text-anchor="middle" font-family="Liberation Sans" font-weight="bold" font-size="9.5" fill="#222">S</text>
<text x="290.2" y="292.2" text-anchor="middle" font-family="Liberation Sans" font-weight="bold" font-size="9.5" fill="#222">SL</text>
<text x="357.3" y="266.90000000000003" text-anchor="middle" font-family="Liberation Sans" font-weight="bold" font-size="9.5" fill="#222">SL</text>
<text x="346.3" y="361.59999999999997" text-anchor="middle" font-family="Liberation Sans" font-weight="bold" font-size="9.5" fill="#222">SL</text>
<text x="430.9" y="370.09999999999997" text-anchor="middle" font-family="Liberation Sans" font-weight="bold" font-size="9.5" fill="#222">SL</text>
</g>
<text x="206.5" y="44.4" font-family="Liberation Sans" font-weight="bold" font-size="20.2" fill="#000">Al 15 de agosto 2021</text>
<text x="205.5" y="473.6" font-family="Liberation Sans" font-weight="bold" font-size="20.2" fill="#000">Al 15 de agosto 2020</text>
<g transform="translate(554.4,165.3)">
<path d="M0,-10.5 L1.5,-1.5 L10.5,0 L1.5,1.5 L0,10.5 L-1.5,1.5 L-10.5,0 L-1.5,-1.5Z" fill="#1a1a1a"/>
<path d="M0,-10.5 L1.5,-1.5 L0,0Z M10.5,0 L1.5,1.5 L0,0Z M0,10.5 L-1.5,1.5 L0,0Z M-10.5,0 L-1.5,-1.5 L0,0Z" fill="#777"/>
<text x="0" y="-12.5" text-anchor="middle" font-family="Liberation Serif" font-weight="bold" font-size="7.2" fill="#222">N</text>
<text x="0" y="17.6" text-anchor="middle" font-family="Liberation Serif" font-weight="bold" font-size="7.2" fill="#222">S</text>
<text x="-15.6" y="2.6" text-anchor="middle" font-family="Liberation Serif" font-weight="bold" font-size="7.2" fill="#222">W</text>
<text x="14.4" y="2.6" text-anchor="middle" font-family="Liberation Serif" font-weight="bold" font-size="7.2" fill="#222">E</text>
</g>
<g transform="translate(553.2,595.3)">
<path d="M0,-10.5 L1.5,-1.5 L10.5,0 L1.5,1.5 L0,10.5 L-1.5,1.5 L-10.5,0 L-1.5,-1.5Z" fill="#1a1a1a"/>
<path d="M0,-10.5 L1.5,-1.5 L0,0Z M10.5,0 L1.5,1.5 L0,0Z M0,10.5 L-1.5,1.5 L0,0Z M-10.5,0 L-1.5,-1.5 L0,0Z" fill="#777"/>
<text x="0" y="-12.5" text-anchor="middle" font-family="Liberation Serif" font-weight="bold" font-size="7.2" fill="#222">N</text>
<text x="0" y="17.6" text-anchor="middle" font-family="Liberation Serif" font-weight="bold" font-size="7.2" fill="#222">S</text>
<text x="-15.6" y="2.6" text-anchor="middle" font-family="Liberation Serif" font-weight="bold" font-size="7.2" fill="#222">W</text>
<text x="14.4" y="2.6" text-anchor="middle" font-family="Liberation Serif" font-weight="bold" font-size="7.2" fill="#222">E</text>
</g>
<g transform="translate(48,223)">
<path d="M10.6,0 C6,4 0.5,8 0.2,13.6 C0,18 3,21.4 8.4,21.4 C11,21.4 13.5,20 15.1,17.5 L14.6,17 C12.8,18.5 10.5,18.4 8,17.8 C5,17 4.2,14.5 4.4,13 C5,9 8,5 10.6,0Z" fill="#4a48c4"/>
<path d="M5.6,13 C7,10 9.5,9 12,9.6 L14.5,9 L14,11 L15.7,12.5 L13,13.5 C11.5,16 8,16.5 5.6,13Z" fill="#b89a5e"/>
<path d="M5,17.6 C8.5,19.6 12,19.2 15,17.2 C13,20.3 8.5,21.2 5,17.6Z" fill="#6fb0d8"/>
</g>
<text x="66.6" y="236.2" font-family="Liberation Serif" font-weight="bold" font-size="12.4" fill="#54495a">CONAGUA</text>
<text x="67.5" y="241" font-family="Liberation Sans" font-weight="bold" font-size="3.3" fill="#5a9499">COMISIÓN NACIONAL DEL AGUA</text>
<text x="49" y="254.5" font-family="Liberation Sans" font-weight="bold" font-style="italic" font-size="7" fill="#333" text-decoration="underline">Intensidad de sequía:</text>
<rect x="49" y="259.7" width="10" height="7.2" fill="#ffff33"/>
<text x="60.7" y="265.9" font-family="Liberation Sans" font-size="7" fill="#333">D0 Anormalmente seco</text>
<rect x="49" y="268.2" width="10" height="7.1" fill="#fcd37f"/>
<text x="60.7" y="274.3" font-family="Liberation Sans" font-size="7" fill="#333">D1 Sequía moderada</text>
<rect x="49" y="276.6" width="10" height="7.1" fill="#e39a26"/>
<text x="60.7" y="282.7" font-family="Liberation Sans" font-size="7" fill="#333">D2 Sequía severa</text>
<rect x="49" y="285" width="10" height="7.2" fill="#e60000"/>
<text x="60.7" y="291.2" font-family="Liberation Sans" font-size="7" fill="#333">D3 Sequía extrema</text>
<rect x="49" y="293.5" width="10" height="7.1" fill="#730000"/>
<text x="60.7" y="299.6" font-family="Liberation Sans" font-size="7" fill="#333">D4 Sequía excepcional</text>
<rect x="49" y="302.5" width="10" height="6.5" fill="#b8b8b8"/>
<text x="60.7" y="308" font-family="Liberation Sans" font-size="7" fill="#333">Sin sequía</text>
<text x="49" y="318.8" font-family="Liberation Sans" font-weight="bold" font-style="italic" font-size="7" fill="#333" text-decoration="underline">Tipos de impacto de sequía:</text>
<path d="M49,331.4 C50,325.4 54,326.4 55,328.4 C56,330.4 59,327.4 60,324.4" stroke="#111" stroke-width="1.6" fill="none"/>
<text x="68" y="330.4" font-family="Liberation Sans" font-size="7" fill="#333">Delimita impactos dominantes</text>
<text x="49" y="342" font-family="Liberation Sans" font-size="7" fill="#333">S= Corto periodo, típicamente &lt;6meses</text>
<text x="60" y="349.7" font-family="Liberation Sans" font-size="7" fill="#333">(p.ej. agricultura, pastizales)</text>
<text x="49" y="360" font-family="Liberation Sans" font-size="7" fill="#333">L= Largo periodo, típicamente &gt;6 meses</text>
<text x="50.5" y="367.8" font-family="Liberation Sans" font-size="7" fill="#333">(p.ej. hidrología, ecología)</text>
<text x="48" y="377.5" font-family="Liberation Sans" font-style="italic" font-size="4.4" fill="#777">Elaborado por: Subgerencia de Climatología y Servicios Climáticos</text>
<g transform="translate(47.6,661)">
<path d="M10.6,0 C6,4 0.5,8 0.2,13.6 C0,18 3,21.4 8.4,21.4 C11,21.4 13.5,20 15.1,17.5 L14.6,17 C12.8,18.5 10.5,18.4 8,17.8 C5,17 4.2,14.5 4.4,13 C5,9 8,5 10.6,0Z" fill="#4a48c4"/>
<path d="M5.6,13 C7,10 9.5,9 12,9.6 L14.5,9 L14,11 L15.7,12.5 L13,13.5 C11.5,16 8,16.5 5.6,13Z" fill="#b89a5e"/>
<path d="M5,17.6 C8.5,19.6 12,19.2 15,17.2 C13,20.3 8.5,21.2 5,17.6Z" fill="#6fb0d8"/>
</g>
<text x="66.2" y="674.2" font-family="Liberation Serif" font-weight="bold" font-size="12.4" fill="#6a6a6e">CONAGUA</text>
<text x="67.1" y="679" font-family="Liberation Sans" font-weight="bold" font-size="3.3" fill="#5a9499">COMISIÓN NACIONAL DEL AGUA</text>
<text x="48.6" y="693.3" font-family="Liberation Sans" font-weight="bold" font-style="italic" font-size="7" fill="#333" text-decoration="underline">Intensidad de sequía:</text>
<rect x="48.6" y="697.8" width="10" height="7.2" fill="#ffff33"/>
<text x="60.3" y="704" font-family="Liberation Sans" font-size="7" fill="#333">D0 Anormalmente seco</text>
<rect x="48.6" y="706.5" width="10" height="7.5" fill="#fcd37f"/>
<text x="60.3" y="713" font-family="Liberation Sans" font-size="7" fill="#333">D1 Sequía moderada</text>
<rect x="48.6" y="715.3" width="10" height="7.2" fill="#e39a26"/>
<text x="60.3" y="721.5" font-family="Liberation Sans" font-size="7" fill="#333">D2 Sequía severa</text>
<rect x="48.6" y="724" width="10" height="7.0" fill="#e60000"/>
<text x="60.3" y="730" font-family="Liberation Sans" font-size="7" fill="#333">D3 Sequía extrema</text>
<rect x="48.6" y="732.7" width="10" height="7.0" fill="#730000"/>
<text x="60.3" y="738.7" font-family="Liberation Sans" font-size="7" fill="#333">D4 Sequía excepcional</text>
<text x="48.6" y="749" font-family="Liberation Sans" font-weight="bold" font-style="italic" font-size="7" fill="#333" text-decoration="underline">Tipos de impacto de sequía:</text>
<path d="M48.6,761 C49.6,755 53.6,756 54.6,758 C55.6,760 58.6,757 59.6,754" stroke="#111" stroke-width="1.6" fill="none"/>
<text x="67.6" y="760" font-family="Liberation Sans" font-size="7" fill="#333">Delimita impactos dominantes</text>
<text x="48.6" y="771.4" font-family="Liberation Sans" font-size="7" fill="#333">S= Corto periodo, típicamente &lt;6meses</text>
<text x="59.6" y="778.9" font-family="Liberation Sans" font-size="7" fill="#333">(p.ej. agricultura, pastizales)</text>
<text x="48.6" y="789.5" font-family="Liberation Sans" font-size="7" fill="#333">L= Largo periodo, típicamente &gt;6 meses</text>
<text x="50.1" y="797.5" font-family="Liberation Sans" font-size="7" fill="#333">(p.ej. hidrología, ecología)</text>
<text x="47.6" y="806.5" font-family="Liberation Sans" font-style="italic" font-size="4.4" fill="#777">Elaborado por: Subgerencia de Climatología y Servicios Climáticos</text>
<text x="72.0" y="388" font-family="Liberation Sans" font-weight="bold" font-size="10.2" fill="#222">2021</text>
<rect x="73.5" y="397.59999999999997" width="371.4" height="1.6" fill="#d4d4d4"/>
<rect x="72.9" y="392.9" width="1.2" height="5.5" fill="#d8d8d8"/>
<text x="73.5" y="411.9" text-anchor="middle" font-family="Liberation Sans" font-weight="bold" font-size="5.6" fill="#dcdcdc">15</text>
<text x="73.5" y="419.4" text-anchor="middle" font-family="Liberation Sans" font-weight="bold" font-size="6" fill="#dcdcdc">ENE</text>
<rect x="89.1" y="392.9" width="1.2" height="5.5" fill="#d8d8d8"/>
<text x="89.7" y="411.9" text-anchor="middle" font-family="Liberation Sans" font-weight="bold" font-size="5.6" fill="#dcdcdc">31</text>
<text x="89.7" y="419.4" text-anchor="middle" font-family="Liberation Sans" font-weight="bold" font-size="6" fill="#dcdcdc">ENE</text>
<rect x="105.2" y="392.9" width="1.2" height="5.5" fill="#d8d8d8"/>
<text x="105.8" y="411.9" text-anchor="middle" font-family="Liberation Sans" font-weight="bold" font-size="5.6" fill="#dcdcdc">15</text>
<text x="105.8" y="419.4" text-anchor="middle" font-family="Liberation Sans" font-weight="bold" font-size="6" fill="#dcdcdc">FEB</text>
<rect x="121.3" y="392.9" width="1.2" height="5.5" fill="#d8d8d8"/>
<text x="121.9" y="411.9" text-anchor="middle" font-family="Liberation Sans" font-weight="bold" font-size="5.6" fill="#dcdcdc">28</text>
<text x="121.9" y="419.4" text-anchor="middle" font-family="Liberation Sans" font-weight="bold" font-size="6" fill="#dcdcdc">FEB</text>
<rect x="137.5" y="392.9" width="1.2" height="5.5" fill="#d8d8d8"/>
<text x="138.1" y="411.9" text-anchor="middle" font-family="Liberation Sans" font-weight="bold" font-size="5.6" fill="#dcdcdc">15</text>
<text x="138.1" y="419.4" text-anchor="middle" font-family="Liberation Sans" font-weight="bold" font-size="6" fill="#dcdcdc">MAR</text>
<rect x="153.7" y="392.9" width="1.2" height="5.5" fill="#d8d8d8"/>
<text x="154.2" y="411.9" text-anchor="middle" font-family="Liberation Sans" font-weight="bold" font-size="5.6" fill="#dcdcdc">31</text>
<text x="154.2" y="419.4" text-anchor="middle" font-family="Liberation Sans" font-weight="bold" font-size="6" fill="#dcdcdc">MAR</text>
<rect x="169.8" y="392.9" width="1.2" height="5.5" fill="#d8d8d8"/>
<text x="170.4" y="411.9" text-anchor="middle" font-family="Liberation Sans" font-weight="bold" font-size="5.6" fill="#dcdcdc">15</text>
<text x="170.4" y="419.4" text-anchor="middle" font-family="Liberation Sans" font-weight="bold" font-size="6" fill="#dcdcdc">ABR</text>
<rect x="185.9" y="392.9" width="1.2" height="5.5" fill="#d8d8d8"/>
<text x="186.5" y="411.9" text-anchor="middle" font-family="Liberation Sans" font-weight="bold" font-size="5.6" fill="#dcdcdc">30</text>
<text x="186.5" y="419.4" text-anchor="middle" font-family="Liberation Sans" font-weight="bold" font-size="6" fill="#dcdcdc">ABR</text>
<rect x="202.1" y="392.9" width="1.2" height="5.5" fill="#d8d8d8"/>
<text x="202.7" y="411.9" text-anchor="middle" font-family="Liberation Sans" font-weight="bold" font-size="5.6" fill="#dcdcdc">15</text>
<text x="202.7" y="419.4" text-anchor="middle" font-family="Liberation Sans" font-weight="bold" font-size="6" fill="#dcdcdc">MAY</text>
<rect x="218.2" y="392.9" width="1.2" height="5.5" fill="#d8d8d8"/>
<text x="218.8" y="411.9" text-anchor="middle" font-family="Liberation Sans" font-weight="bold" font-size="5.6" fill="#dcdcdc">31</text>
<text x="218.8" y="419.4" text-anchor="middle" font-family="Liberation Sans" font-weight="bold" font-size="6" fill="#dcdcdc">MAY</text>
<rect x="234.4" y="392.9" width="1.2" height="5.5" fill="#d8d8d8"/>
<text x="235.0" y="411.9" text-anchor="middle" font-family="Liberation Sans" font-weight="bold" font-size="5.6" fill="#dcdcdc">15</text>
<text x="235.0" y="419.4" text-anchor="middle" font-family="Liberation Sans" font-weight="bold" font-size="6" fill="#dcdcdc">JUN</text>
<rect x="250.5" y="392.9" width="1.2" height="5.5" fill="#d8d8d8"/>
<text x="251.1" y="411.9" text-anchor="middle" font-family="Liberation Sans" font-weight="bold" font-size="5.6" fill="#dcdcdc">30</text>
<text x="251.1" y="419.4" text-anchor="middle" font-family="Liberation Sans" font-weight="bold" font-size="6" fill="#dcdcdc">JUN</text>
<rect x="266.7" y="392.9" width="1.2" height="5.5" fill="#d8d8d8"/>
<text x="267.3" y="411.9" text-anchor="middle" font-family="Liberation Sans" font-weight="bold" font-size="5.6" fill="#dcdcdc">15</text>
<text x="267.3" y="419.4" text-anchor="middle" font-family="Liberation Sans" font-weight="bold" font-size="6" fill="#dcdcdc">JUL</text>
<rect x="282.8" y="392.9" width="1.2" height="5.5" fill="#d8d8d8"/>
<text x="283.4" y="411.9" text-anchor="middle" font-family="Liberation Sans" font-weight="bold" font-size="5.6" fill="#dcdcdc">31</text>
<text x="283.4" y="419.4" text-anchor="middle" font-family="Liberation Sans" font-weight="bold" font-size="6" fill="#dcdcdc">JUL</text>
<rect x="298.8" y="391.9" width="1.6" height="13" fill="#333"/>
<text x="299.6" y="411.9" text-anchor="middle" font-family="Liberation Sans" font-weight="bold" font-size="5.6" fill="#111">15</text>
<text x="299.6" y="419.4" text-anchor="middle" font-family="Liberation Sans" font-weight="bold" font-size="6" fill="#111">AGO</text>
<rect x="315.1" y="392.9" width="1.2" height="5.5" fill="#d8d8d8"/>
<text x="315.8" y="411.9" text-anchor="middle" font-family="Liberation Sans" font-weight="bold" font-size="5.6" fill="#dcdcdc">31</text>
<text x="315.8" y="419.4" text-anchor="middle" font-family="Liberation Sans" font-weight="bold" font-size="6" fill="#dcdcdc">AGO</text>
<rect x="331.3" y="392.9" width="1.2" height="5.5" fill="#d8d8d8"/>
<text x="331.9" y="411.9" text-anchor="middle" font-family="Liberation Sans" font-weight="bold" font-size="5.6" fill="#dcdcdc">15</text>
<text x="331.9" y="419.4" text-anchor="middle" font-family="Liberation Sans" font-weight="bold" font-size="6" fill="#dcdcdc">SEP</text>
<rect x="347.4" y="392.9" width="1.2" height="5.5" fill="#d8d8d8"/>
<text x="348.0" y="411.9" text-anchor="middle" font-family="Liberation Sans" font-weight="bold" font-size="5.6" fill="#dcdcdc">30</text>
<text x="348.0" y="419.4" text-anchor="middle" font-family="Liberation Sans" font-weight="bold" font-size="6" fill="#dcdcdc">SEP</text>
<rect x="363.6" y="392.9" width="1.2" height="5.5" fill="#d8d8d8"/>
<text x="364.2" y="411.9" text-anchor="middle" font-family="Liberation Sans" font-weight="bold" font-size="5.6" fill="#dcdcdc">15</text>
<text x="364.2" y="419.4" text-anchor="middle" font-family="Liberation Sans" font-weight="bold" font-size="6" fill="#dcdcdc">OCT</text>
<rect x="379.7" y="392.9" width="1.2" height="5.5" fill="#d8d8d8"/>
<text x="380.3" y="411.9" text-anchor="middle" font-family="Liberation Sans" font-weight="bold" font-size="5.6" fill="#dcdcdc">31</text>
<text x="380.3" y="419.4" text-anchor="middle" font-family="Liberation Sans" font-weight="bold" font-size="6" fill="#dcdcdc">OCT</text>
<rect x="395.9" y="392.9" width="1.2" height="5.5" fill="#d8d8d8"/>
<text x="396.5" y="411.9" text-anchor="middle" font-family="Liberation Sans" font-weight="bold" font-size="5.6" fill="#dcdcdc">15</text>
<text x="396.5" y="419.4" text-anchor="middle" font-family="Liberation Sans" font-weight="bold" font-size="6" fill="#dcdcdc">NOV</text>
<rect x="412.0" y="392.9" width="1.2" height="5.5" fill="#d8d8d8"/>
<text x="412.6" y="411.9" text-anchor="middle" font-family="Liberation Sans" font-weight="bold" font-size="5.6" fill="#dcdcdc">30</text>
<text x="412.6" y="419.4" text-anchor="middle" font-family="Liberation Sans" font-weight="bold" font-size="6" fill="#dcdcdc">NOV</text>
<rect x="428.2" y="392.9" width="1.2" height="5.5" fill="#d8d8d8"/>
<text x="428.8" y="411.9" text-anchor="middle" font-family="Liberation Sans" font-weight="bold" font-size="5.6" fill="#dcdcdc">15</text>
<text x="428.8" y="419.4" text-anchor="middle" font-family="Liberation Sans" font-weight="bold" font-size="6" fill="#dcdcdc">DIC</text>
<rect x="444.3" y="392.9" width="1.2" height="5.5" fill="#d8d8d8"/>
<text x="444.9" y="411.9" text-anchor="middle" font-family="Liberation Sans" font-weight="bold" font-size="5.6" fill="#dcdcdc">31</text>
<text x="444.9" y="419.4" text-anchor="middle" font-family="Liberation Sans" font-weight="bold" font-size="6" fill="#dcdcdc">DIC</text>
<text x="71.1" y="817.3" font-family="Liberation Sans" font-weight="bold" font-size="10.2" fill="#222">2020</text>
<rect x="72.6" y="826.9000000000001" width="371.4" height="1.6" fill="#d4d4d4"/>
<rect x="72.0" y="822.2" width="1.2" height="5.5" fill="#d8d8d8"/>
<text x="72.6" y="841.2" text-anchor="middle" font-family="Liberation Sans" font-weight="bold" font-size="5.6" fill="#dcdcdc">15</text>
<text x="72.6" y="848.7" text-anchor="middle" font-family="Liberation Sans" font-weight="bold" font-size="6" fill="#dcdcdc">ENE</text>
<rect x="88.2" y="822.2" width="1.2" height="5.5" fill="#d8d8d8"/>
<text x="88.8" y="841.2" text-anchor="middle" font-family="Liberation Sans" font-weight="bold" font-size="5.6" fill="#dcdcdc">31</text>
<text x="88.8" y="848.7" text-anchor="middle" font-family="Liberation Sans" font-weight="bold" font-size="6" fill="#dcdcdc">ENE</text>
<rect x="104.3" y="822.2" width="1.2" height="5.5" fill="#d8d8d8"/>
<text x="104.9" y="841.2" text-anchor="middle" font-family="Liberation Sans" font-weight="bold" font-size="5.6" fill="#dcdcdc">15</text>
<text x="104.9" y="848.7" text-anchor="middle" font-family="Liberation Sans" font-weight="bold" font-size="6" fill="#dcdcdc">FEB</text>
<rect x="120.4" y="822.2" width="1.2" height="5.5" fill="#d8d8d8"/>
<text x="121.0" y="841.2" text-anchor="middle" font-family="Liberation Sans" font-weight="bold" font-size="5.6" fill="#dcdcdc">28</text>
<text x="121.0" y="848.7" text-anchor="middle" font-family="Liberation Sans" font-weight="bold" font-size="6" fill="#dcdcdc">FEB</text>
<rect x="136.6" y="822.2" width="1.2" height="5.5" fill="#d8d8d8"/>
<text x="137.2" y="841.2" text-anchor="middle" font-family="Liberation Sans" font-weight="bold" font-size="5.6" fill="#dcdcdc">15</text>
<text x="137.2" y="848.7" text-anchor="middle" font-family="Liberation Sans" font-weight="bold" font-size="6" fill="#dcdcdc">MAR</text>
<rect x="152.8" y="822.2" width="1.2" height="5.5" fill="#d8d8d8"/>
<text x="153.3" y="841.2" text-anchor="middle" font-family="Liberation Sans" font-weight="bold" font-size="5.6" fill="#dcdcdc">31</text>
<text x="153.3" y="848.7" text-anchor="middle" font-family="Liberation Sans" font-weight="bold" font-size="6" fill="#dcdcdc">MAR</text>
<rect x="168.9" y="822.2" width="1.2" height="5.5" fill="#d8d8d8"/>
<text x="169.5" y="841.2" text-anchor="middle" font-family="Liberation Sans" font-weight="bold" font-size="5.6" fill="#dcdcdc">15</text>
<text x="169.5" y="848.7" text-anchor="middle" font-family="Liberation Sans" font-weight="bold" font-size="6" fill="#dcdcdc">ABR</text>
<rect x="185.0" y="822.2" width="1.2" height="5.5" fill="#d8d8d8"/>
<text x="185.6" y="841.2" text-anchor="middle" font-family="Liberation Sans" font-weight="bold" font-size="5.6" fill="#dcdcdc">30</text>
<text x="185.6" y="848.7" text-anchor="middle" font-family="Liberation Sans" font-weight="bold" font-size="6" fill="#dcdcdc">ABR</text>
<rect x="201.2" y="822.2" width="1.2" height="5.5" fill="#d8d8d8"/>
<text x="201.8" y="841.2" text-anchor="middle" font-family="Liberation Sans" font-weight="bold" font-size="5.6" fill="#dcdcdc">15</text>
<text x="201.8" y="848.7" text-anchor="middle" font-family="Liberation Sans" font-weight="bold" font-size="6" fill="#dcdcdc">MAY</text>
<rect x="217.3" y="822.2" width="1.2" height="5.5" fill="#d8d8d8"/>
<text x="217.9" y="841.2" text-anchor="middle" font-family="Liberation Sans" font-weight="bold" font-size="5.6" fill="#dcdcdc">31</text>
<text x="217.9" y="848.7" text-anchor="middle" font-family="Liberation Sans" font-weight="bold" font-size="6" fill="#dcdcdc">MAY</text>
<rect x="233.5" y="822.2" width="1.2" height="5.5" fill="#d8d8d8"/>
<text x="234.1" y="841.2" text-anchor="middle" font-family="Liberation Sans" font-weight="bold" font-size="5.6" fill="#dcdcdc">15</text>
<text x="234.1" y="848.7" text-anchor="middle" font-family="Liberation Sans" font-weight="bold" font-size="6" fill="#dcdcdc">JUN</text>
<rect x="249.6" y="822.2" width="1.2" height="5.5" fill="#d8d8d8"/>
<text x="250.2" y="841.2" text-anchor="middle" font-family="Liberation Sans" font-weight="bold" font-size="5.6" fill="#dcdcdc">30</text>
<text x="250.2" y="848.7" text-anchor="middle" font-family="Liberation Sans" font-weight="bold" font-size="6" fill="#dcdcdc">JUN</text>
<rect x="265.8" y="822.2" width="1.2" height="5.5" fill="#d8d8d8"/>
<text x="266.4" y="841.2" text-anchor="middle" font-family="Liberation Sans" font-weight="bold" font-size="5.6" fill="#dcdcdc">15</text>
<text x="266.4" y="848.7" text-anchor="middle" font-family="Liberation Sans" font-weight="bold" font-size="6" fill="#dcdcdc">JUL</text>
<rect x="281.9" y="822.2" width="1.2" height="5.5" fill="#d8d8d8"/>
<text x="282.5" y="841.2" text-anchor="middle" font-family="Liberation Sans" font-weight="bold" font-size="5.6" fill="#dcdcdc">31</text>
<text x="282.5" y="848.7" text-anchor="middle" font-family="Liberation Sans" font-weight="bold" font-size="6" fill="#dcdcdc">JUL</text>
<rect x="297.9" y="821.2" width="1.6" height="13" fill="#333"/>
<text x="298.7" y="841.2" text-anchor="middle" font-family="Liberation Sans" font-weight="bold" font-size="5.6" fill="#111">15</text>
<text x="298.7" y="848.7" text-anchor="middle" font-family="Liberation Sans" font-weight="bold" font-size="6" fill="#111">AGO</text>
<rect x="314.2" y="822.2" width="1.2" height="5.5" fill="#d8d8d8"/>
<text x="314.8" y="841.2" text-anchor="middle" font-family="Liberation Sans" font-weight="bold" font-size="5.6" fill="#dcdcdc">31</text>
<text x="314.8" y="848.7" text-anchor="middle" font-family="Liberation Sans" font-weight="bold" font-size="6" fill="#dcdcdc">AGO</text>
<rect x="330.4" y="822.2" width="1.2" height="5.5" fill="#d8d8d8"/>
<text x="331.0" y="841.2" text-anchor="middle" font-family="Liberation Sans" font-weight="bold" font-size="5.6" fill="#dcdcdc">15</text>
<text x="331.0" y="848.7" text-anchor="middle" font-family="Liberation Sans" font-weight="bold" font-size="6" fill="#dcdcdc">SEP</text>
<rect x="346.5" y="822.2" width="1.2" height="5.5" fill="#d8d8d8"/>
<text x="347.1" y="841.2" text-anchor="middle" font-family="Liberation Sans" font-weight="bold" font-size="5.6" fill="#dcdcdc">30</text>
<text x="347.1" y="848.7" text-anchor="middle" font-family="Liberation Sans" font-weight="bold" font-size="6" fill="#dcdcdc">SEP</text>
<rect x="362.7" y="822.2" width="1.2" height="5.5" fill="#d8d8d8"/>
<text x="363.3" y="841.2" text-anchor="middle" font-family="Liberation Sans" font-weight="bold" font-size="5.6" fill="#dcdcdc">15</text>
<text x="363.3" y="848.7" text-anchor="middle" font-family="Liberation Sans" font-weight="bold" font-size="6" fill="#dcdcdc">OCT</text>
<rect x="378.8" y="822.2" width="1.2" height="5.5" fill="#d8d8d8"/>
<text x="379.4" y="841.2" text-anchor="middle" font-family="Liberation Sans" font-weight="bold" font-size="5.6" fill="#dcdcdc">31</text>
<text x="379.4" y="848.7" text-anchor="middle" font-family="Liberation Sans" font-weight="bold" font-size="6" fill="#dcdcdc">OCT</text>
<rect x="395.0" y="822.2" width="1.2" height="5.5" fill="#d8d8d8"/>
<text x="395.6" y="841.2" text-anchor="middle" font-family="Liberation Sans" font-weight="bold" font-size="5.6" fill="#dcdcdc">15</text>
<text x="395.6" y="848.7" text-anchor="middle" font-family="Liberation Sans" font-weight="bold" font-size="6" fill="#dcdcdc">NOV</text>
<rect x="411.1" y="822.2" width="1.2" height="5.5" fill="#d8d8d8"/>
<text x="411.8" y="841.2" text-anchor="middle" font-family="Liberation Sans" font-weight="bold" font-size="5.6" fill="#dcdcdc">30</text>
<text x="411.8" y="848.7" text-anchor="middle" font-family="Liberation Sans" font-weight="bold" font-size="6" fill="#dcdcdc">NOV</text>
<rect x="427.3" y="822.2" width="1.2" height="5.5" fill="#d8d8d8"/>
<text x="427.9" y="841.2" text-anchor="middle" font-family="Liberation Sans" font-weight="bold" font-size="5.6" fill="#dcdcdc">15</text>
<text x="427.9" y="848.7" text-anchor="middle" font-family="Liberation Sans" font-weight="bold" font-size="6" fill="#dcdcdc">DIC</text>
<rect x="443.4" y="822.2" width="1.2" height="5.5" fill="#d8d8d8"/>
<text x="444.0" y="841.2" text-anchor="middle" font-family="Liberation Sans" font-weight="bold" font-size="5.6" fill="#dcdcdc">31</text>
<text x="444.0" y="848.7" text-anchor="middle" font-family="Liberation Sans" font-weight="bold" font-size="6" fill="#dcdcdc">DIC</text>
</svg>
<div style="position:absolute;left:646px;top:153px;width:923px;height:605px;background:#fff"></div>
<div style="position:absolute;left:1570px;top:266px;width:1px;height:457px;background:#fff"></div>
<div style="position:absolute;left:647px;top:153px;width:922px;height:3px;background:#222b36"></div>
<div style="position:absolute;left:647px;top:153px;width:1px;height:605px;background:#000"></div>
<div style="position:absolute;left:646px;top:155px;width:1px;height:603px;background:#2e6b63"></div>
<div class="c" style="left:648px;top:155.5px;width:179px;height:110px;background:#44546a"><span class="h" style="top:29.08px;color:#fff">Entidades</span><span class="h" style="top:61.38px;color:#fff">Federativas</span></div>
<div class="c" style="left:828px;top:155.5px;width:124px;height:110px;background:#44546a"><span class="h" style="top:29.08px;color:#fff">N° de</span><span class="h" style="top:61.38px;color:#fff">Municipios</span></div>
<div class="c" style="left:953px;top:155.5px;width:134px;height:110px;background:#d6dce5"><span class="h" style="top:11.38px;color:#000">Sin</span><span class="h" style="top:43.68px;color:#000">afectacione</span><span class="h" style="top:76.88px;color:#000">s</span></div>
<div class="c" style="left:1088px;top:155.5px;width:170px;height:110px;background:#d6dce5"><span class="h" style="top:29.08px;color:#000">Anormalmente</span><span class="h" style="top:61.38px;color:#000">secos (D0)</span></div>
<div class="c" style="left:1260px;top:155.5px;width:124px;height:110px;background:#d6dce5"><span class="h" style="top:29.08px;color:#000">Con sequía</span><span class="h" style="top:61.38px;color:#000">(D1 - D4)</span></div>
<div class="c" style="left:1385px;top:155.5px;width:184px;height:110px;background:#44546a"><span class="h" style="top:29.08px;color:#fff">% con sequía</span><span class="h" style="top:61.38px;color:#fff">(D1 a D4)</span></div>
<div style="position:absolute;left:827px;top:155.5px;width:1px;height:110px;background:#b9bec6"></div>
<div class="c" style="left:648px;top:266.00px;width:179px;height:32.65px;"><span class="t" style="font-size:21.8px;color:#000;left:20.5px;top:7.84px;">Sonora</span></div>
<div class="c" style="left:828px;top:266.00px;width:124px;height:32.65px;"><span class="t" style="font-size:21.8px;color:#000;left:0;right:0;text-align:center;top:7.84px;">72</span></div>
<div class="c" style="left:953px;top:266.00px;width:134px;height:32.65px;"><span class="t" style="font-size:21.8px;color:#000;left:0;right:0;text-align:center;top:7.84px;">9</span></div>
<div class="c" style="left:1088px;top:266.00px;width:170px;height:32.65px;"><span class="t" style="font-size:21.8px;color:#000;left:0;right:0;text-align:center;top:7.84px;">12</span></div>
<div class="c" style="left:1260px;top:266.00px;width:124px;height:32.65px;"><span class="t" style="font-size:21.8px;color:#000;left:0;right:0;text-align:center;top:7.84px;">51</span></div>
<div class="c" style="left:1385px;top:266.00px;width:184px;height:32.65px;"><span class="t" style="font-size:21.8px;color:#000;left:0;right:0;text-align:center;top:7.84px;">70.8%</span></div>
<div class="c" style="left:648px;top:298.65px;width:179px;height:32.65px;"><span class="t" style="font-size:21.8px;color:#000;left:20.5px;top:7.84px;">Durango</span></div>
<div class="c" style="left:828px;top:298.65px;width:124px;height:32.65px;"><span class="t" style="font-size:21.8px;color:#000;left:0;right:0;text-align:center;top:7.84px;">39</span></div>
<div class="c" style="left:953px;top:298.65px;width:134px;height:32.65px;"><span class="t" style="font-size:21.8px;color:#000;left:0;right:0;text-align:center;top:7.84px;">13</span></div>
<div class="c" style="left:1088px;top:298.65px;width:170px;height:32.65px;"><span class="t" style="font-size:21.8px;color:#000;left:0;right:0;text-align:center;top:7.84px;">3</span></div>
<div class="c" style="left:1260px;top:298.65px;width:124px;height:32.65px;"><span class="t" style="font-size:21.8px;color:#000;left:0;right:0;text-align:center;top:7.84px;">23</span></div>
<div class="c" style="left:1385px;top:298.65px;width:184px;height:32.65px;"><span class="t" style="font-size:21.8px;color:#000;left:0;right:0;text-align:center;top:7.84px;">59.0%</span></div>
<div class="c" style="left:648px;top:331.30px;width:179px;height:32.65px;"><span class="t" style="font-size:21.8px;color:#000;left:20.5px;top:7.84px;">Baja California</span></div>
<div class="c" style="left:828px;top:331.30px;width:124px;height:32.65px;"><span class="t" style="font-size:21.8px;color:#000;left:0;right:0;text-align:center;top:7.84px;">5</span></div>
<div class="c" style="left:953px;top:331.30px;width:134px;height:32.65px;"><span class="t" style="font-size:21.8px;color:#000;left:0;right:0;text-align:center;top:7.84px;">0</span></div>
<div class="c" style="left:1088px;top:331.30px;width:170px;height:32.65px;"><span class="t" style="font-size:21.8px;color:#000;left:0;right:0;text-align:center;top:7.84px;">0</span></div>
<div class="c" style="left:1260px;top:331.30px;width:124px;height:32.65px;"><span class="t" style="font-size:21.8px;color:#000;left:0;right:0;text-align:center;top:7.84px;">5</span></div>
<div class="c" style="left:1385px;top:331.30px;width:184px;height:32.65px;"><span class="t" style="font-size:21.8px;color:#000;left:0;right:0;text-align:center;top:7.84px;">100.0%</span></div>
<div class="c" style="left:648px;top:363.95px;width:179px;height:32.65px;"><span class="t" style="font-size:21.8px;color:#000;left:20.5px;top:7.84px;">Sinaloa</span></div>
<div class="c" style="left:828px;top:363.95px;width:124px;height:32.65px;"><span class="t" style="font-size:21.8px;color:#000;left:0;right:0;text-align:center;top:7.84px;">18</span></div>
<div class="c" style="left:953px;top:363.95px;width:134px;height:32.65px;"><span class="t" style="font-size:21.8px;color:#000;left:0;right:0;text-align:center;top:7.84px;">5</span></div>
<div class="c" style="left:1088px;top:363.95px;width:170px;height:32.65px;"><span class="t" style="font-size:21.8px;color:#000;left:0;right:0;text-align:center;top:7.84px;">6</span></div>
<div class="c" style="left:1260px;top:363.95px;width:124px;height:32.65px;"><span class="t" style="font-size:21.8px;color:#000;left:0;right:0;text-align:center;top:7.84px;">7</span></div>
<div class="c" style="left:1385px;top:363.95px;width:184px;height:32.65px;"><span class="t" style="font-size:21.8px;color:#000;left:0;right:0;text-align:center;top:7.84px;">38.9%</span></div>
<div class="c" style="left:648px;top:396.60px;width:179px;height:32.65px;"><span class="t" style="font-size:21.8px;color:#000;left:20.5px;top:7.84px;">Michoacán</span></div>
<div class="c" style="left:828px;top:396.60px;width:124px;height:32.65px;"><span class="t" style="font-size:21.8px;color:#000;left:0;right:0;text-align:center;top:7.84px;">113</span></div>
<div class="c" style="left:953px;top:396.60px;width:134px;height:32.65px;"><span class="t" style="font-size:21.8px;color:#000;left:0;right:0;text-align:center;top:7.84px;">31</span></div>
<div class="c" style="left:1088px;top:396.60px;width:170px;height:32.65px;"><span class="t" style="font-size:21.8px;color:#000;left:0;right:0;text-align:center;top:7.84px;">34</span></div>
<div class="c" style="left:1260px;top:396.60px;width:124px;height:32.65px;"><span class="t" style="font-size:21.8px;color:#000;left:0;right:0;text-align:center;top:7.84px;">48</span></div>
<div class="c" style="left:1385px;top:396.60px;width:184px;height:32.65px;"><span class="t" style="font-size:21.8px;color:#000;left:0;right:0;text-align:center;top:7.84px;">42.5%</span></div>
<div class="c" style="left:648px;top:429.25px;width:179px;height:32.65px;"><span class="t" style="font-size:21.8px;color:#000;left:20.5px;top:7.84px;">Chihuahua</span></div>
<div class="c" style="left:828px;top:429.25px;width:124px;height:32.65px;"><span class="t" style="font-size:21.8px;color:#000;left:0;right:0;text-align:center;top:7.84px;">67</span></div>
<div class="c" style="left:953px;top:429.25px;width:134px;height:32.65px;"><span class="t" style="font-size:21.8px;color:#000;left:0;right:0;text-align:center;top:7.84px;">38</span></div>
<div class="c" style="left:1088px;top:429.25px;width:170px;height:32.65px;"><span class="t" style="font-size:21.8px;color:#000;left:0;right:0;text-align:center;top:7.84px;">15</span></div>
<div class="c" style="left:1260px;top:429.25px;width:124px;height:32.65px;"><span class="t" style="font-size:21.8px;color:#000;left:0;right:0;text-align:center;top:7.84px;">14</span></div>
<div class="c" style="left:1385px;top:429.25px;width:184px;height:32.65px;"><span class="t" style="font-size:21.8px;color:#000;left:0;right:0;text-align:center;top:7.84px;">20.9%</span></div>
<div class="c" style="left:648px;top:461.90px;width:179px;height:32.65px;"><span class="t" style="font-size:21.8px;color:#000;left:20.5px;top:7.84px;">Tamaulipas</span></div>
<div class="c" style="left:828px;top:461.90px;width:124px;height:32.65px;"><span class="t" style="font-size:21.8px;color:#000;left:0;right:0;text-align:center;top:7.84px;">43</span></div>
<div class="c" style="left:953px;top:461.90px;width:134px;height:32.65px;"><span class="t" style="font-size:21.8px;color:#000;left:0;right:0;text-align:center;top:7.84px;">27</span></div>
<div class="c" style="left:1088px;top:461.90px;width:170px;height:32.65px;"><span class="t" style="font-size:21.8px;color:#000;left:0;right:0;text-align:center;top:7.84px;">8</span></div>
<div class="c" style="left:1260px;top:461.90px;width:124px;height:32.65px;"><span class="t" style="font-size:21.8px;color:#000;left:0;right:0;text-align:center;top:7.84px;">8</span></div>
<div class="c" style="left:1385px;top:461.90px;width:184px;height:32.65px;"><span class="t" style="font-size:21.8px;color:#000;left:0;right:0;text-align:center;top:7.84px;">18.6%</span></div>
<div class="c" style="left:648px;top:494.55px;width:179px;height:32.65px;"><span class="t" style="font-size:21.8px;color:#000;left:20.5px;top:7.84px;">Zacatecas</span></div>
<div class="c" style="left:828px;top:494.55px;width:124px;height:32.65px;"><span class="t" style="font-size:21.8px;color:#000;left:0;right:0;text-align:center;top:7.84px;">58</span></div>
<div class="c" style="left:953px;top:494.55px;width:134px;height:32.65px;"><span class="t" style="font-size:21.8px;color:#000;left:0;right:0;text-align:center;top:7.84px;">55</span></div>
<div class="c" style="left:1088px;top:494.55px;width:170px;height:32.65px;"><span class="t" style="font-size:21.8px;color:#000;left:0;right:0;text-align:center;top:7.84px;">3</span></div>
<div class="c" style="left:1260px;top:494.55px;width:124px;height:32.65px;"><span class="t" style="font-size:21.8px;color:#000;left:0;right:0;text-align:center;top:7.84px;">0</span></div>
<div class="c" style="left:1385px;top:494.55px;width:184px;height:32.65px;"><span class="t" style="font-size:21.8px;color:#000;left:0;right:0;text-align:center;top:7.84px;">0.0%</span></div>
<div class="c" style="left:648px;top:527.20px;width:179px;height:32.65px;"><span class="t" style="font-size:21.8px;color:#000;left:20.5px;top:7.84px;">Guanajuato</span></div>
<div class="c" style="left:828px;top:527.20px;width:124px;height:32.65px;"><span class="t" style="font-size:21.8px;color:#000;left:0;right:0;text-align:center;top:7.84px;">46</span></div>
<div class="c" style="left:953px;top:527.20px;width:134px;height:32.65px;"><span class="t" style="font-size:21.8px;color:#000;left:0;right:0;text-align:center;top:7.84px;">32</span></div>
<div class="c" style="left:1088px;top:527.20px;width:170px;height:32.65px;"><span class="t" style="font-size:21.8px;color:#000;left:0;right:0;text-align:center;top:7.84px;">11</span></div>
<div class="c" style="left:1260px;top:527.20px;width:124px;height:32.65px;"><span class="t" style="font-size:21.8px;color:#000;left:0;right:0;text-align:center;top:7.84px;">3</span></div>
<div class="c" style="left:1385px;top:527.20px;width:184px;height:32.65px;"><span class="t" style="font-size:21.8px;color:#000;left:0;right:0;text-align:center;top:7.84px;">6.5%</span></div>
<div class="c" style="left:648px;top:559.85px;width:179px;height:32.65px;"><span class="t" style="font-size:21.8px;color:#000;left:20.5px;top:7.84px;">Jalisco</span></div>
<div class="c" style="left:828px;top:559.85px;width:124px;height:32.65px;"><span class="t" style="font-size:21.8px;color:#000;left:0;right:0;text-align:center;top:7.84px;">125</span></div>
<div class="c" style="left:953px;top:559.85px;width:134px;height:32.65px;"><span class="t" style="font-size:21.8px;color:#000;left:0;right:0;text-align:center;top:7.84px;">75</span></div>
<div class="c" style="left:1088px;top:559.85px;width:170px;height:32.65px;"><span class="t" style="font-size:21.8px;color:#000;left:0;right:0;text-align:center;top:7.84px;">20</span></div>
<div class="c" style="left:1260px;top:559.85px;width:124px;height:32.65px;"><span class="t" style="font-size:21.8px;color:#000;left:0;right:0;text-align:center;top:7.84px;">30</span></div>
<div class="c" style="left:1385px;top:559.85px;width:184px;height:32.65px;"><span class="t" style="font-size:21.8px;color:#000;left:0;right:0;text-align:center;top:7.84px;">24.0%</span></div>
<div class="c" style="left:648px;top:592.50px;width:736px;height:32.65px;background:#f2f2f2"></div>
<div class="c" style="left:648px;top:592.50px;width:194px;height:32.65px;"><span class="t" style="font-size:21.8px;color:#000;font-weight:bold;left:0;right:0;text-align:center;top:7.84px;">Subtotal</span></div>
<div class="c" style="left:828px;top:592.50px;width:124px;height:32.65px;"><span class="t" style="font-size:21.8px;color:#000;left:0;right:0;text-align:center;top:7.84px;">586</span></div>
<div class="c" style="left:953px;top:592.50px;width:134px;height:32.65px;"><span class="t" style="font-size:21.8px;color:#000;font-weight:bold;left:0;right:0;text-align:center;top:7.84px;">285</span></div>
<div class="c" style="left:1088px;top:592.50px;width:170px;height:32.65px;"><span class="t" style="font-size:21.8px;color:#000;font-weight:bold;left:0;right:0;text-align:center;top:7.84px;">112</span></div>
<div class="c" style="left:1260px;top:592.50px;width:124px;height:32.65px;"><span class="t" style="font-size:21.8px;color:#000;font-weight:bold;left:0;right:0;text-align:center;top:7.84px;">189</span></div>
<div class="c" style="left:1385px;top:592.50px;width:184px;height:32.65px;"><span class="t" style="font-size:21.8px;color:#000;left:0;right:0;text-align:center;top:7.84px;">32.3%</span></div>
<div class="c" style="left:828px;top:625.15px;width:124px;height:32.65px;"><span class="t" style="font-size:21.8px;color:#000;left:0;right:0;text-align:center;top:7.84px;">23.8%</span></div>
<div class="c" style="left:953px;top:625.15px;width:134px;height:32.65px;"><span class="t" style="font-size:21.8px;color:#000;left:0;right:0;text-align:center;top:7.84px;">16.5%</span></div>
<div class="c" style="left:1088px;top:625.15px;width:170px;height:32.65px;"><span class="t" style="font-size:21.8px;color:#000;left:0;right:0;text-align:center;top:7.84px;">22.8%</span></div>
<div class="c" style="left:1260px;top:625.15px;width:124px;height:32.65px;"><span class="t" style="font-size:21.8px;color:#000;left:0;right:0;text-align:center;top:7.84px;">78.4%</span></div>
<div class="c" style="left:648px;top:657.80px;width:736px;height:32.65px;background:#f2f2f2"></div>
<div class="c" style="left:648px;top:657.80px;width:179px;height:32.65px;"><span class="t" style="font-size:21.8px;color:#000;font-weight:bold;left:0;right:0;text-align:center;top:7.84px;">Otros</span></div>
<div class="c" style="left:828px;top:657.80px;width:124px;height:32.65px;"><span class="t" style="font-size:21.8px;color:#000;left:0;right:0;text-align:center;top:7.84px;">1,877</span></div>
<div class="c" style="left:953px;top:657.80px;width:134px;height:32.65px;"><span class="t" style="font-size:21.8px;color:#000;font-weight:bold;left:0;right:0;text-align:center;top:7.84px;">1,446</span></div>
<div class="c" style="left:1088px;top:657.80px;width:170px;height:32.65px;"><span class="t" style="font-size:21.8px;color:#000;font-weight:bold;left:0;right:0;text-align:center;top:7.84px;">379</span></div>
<div class="c" style="left:1260px;top:657.80px;width:124px;height:32.65px;"><span class="t" style="font-size:21.8px;color:#000;font-weight:bold;left:0;right:0;text-align:center;top:7.84px;">52</span></div>
<div class="c" style="left:1385px;top:657.80px;width:184px;height:32.65px;"><span class="t" style="font-size:21.8px;color:#000;left:0;right:0;text-align:center;top:7.84px;">2.8%</span></div>
<div class="c" style="left:828px;top:690.45px;width:124px;height:32.65px;"><span class="t" style="font-size:21.8px;color:#000;left:0;right:0;text-align:center;top:7.84px;">76.2%</span></div>
<div class="c" style="left:953px;top:690.45px;width:134px;height:32.65px;"><span class="t" style="font-size:21.8px;color:#000;left:0;right:0;text-align:center;top:7.84px;">83.5%</span></div>
<div class="c" style="left:1088px;top:690.45px;width:170px;height:32.65px;"><span class="t" style="font-size:21.8px;color:#000;left:0;right:0;text-align:center;top:7.84px;">77.2%</span></div>
<div class="c" style="left:1260px;top:690.45px;width:124px;height:32.65px;"><span class="t" style="font-size:21.8px;color:#000;left:0;right:0;text-align:center;top:7.84px;">21.6%</span></div>
<div class="c" style="left:648px;top:723.10px;width:179px;height:32.65px;background:#44546a;"><span class="t" style="font-size:21.8px;color:#fff;font-weight:bold;left:0;right:0;text-align:center;top:7.84px;">Total</span></div>
<div class="c" style="left:828px;top:723.10px;width:124px;height:32.65px;background:#44546a;"><span class="t" style="font-size:21.8px;color:#fff;font-weight:bold;left:0;right:0;text-align:center;top:7.84px;">2,463</span></div>
<div class="c" style="left:953px;top:723.10px;width:134px;height:32.65px;background:#d6dce5;"><span class="t" style="font-size:21.8px;color:#000;font-weight:bold;left:0;right:0;text-align:center;top:7.84px;">1,731</span></div>
<div class="c" style="left:1088px;top:723.10px;width:170px;height:32.65px;background:#d6dce5;"><span class="t" style="font-size:21.8px;color:#000;font-weight:bold;left:0;right:0;text-align:center;top:7.84px;">491</span></div>
<div class="c" style="left:1260px;top:723.10px;width:124px;height:32.65px;background:#d6dce5;"><span class="t" style="font-size:21.8px;color:#000;font-weight:bold;left:0;right:0;text-align:center;top:7.84px;">241</span></div>
<div class="c" style="left:1385px;top:723.10px;width:184px;height:32.65px;background:#44546a;"><span class="t" style="font-size:21.8px;color:#fff;font-weight:bold;left:0;right:0;text-align:center;top:7.84px;">9.8%</span></div>
<div style="position:absolute;left:648px;top:756px;width:921px;height:3px;background:#27303c"></div>
<div style="position:absolute;left:648px;top:760px;width:921px;height:1px;background:#1c1a3a"></div>
<div style="position:absolute;left:1377px;top:792.5px;width:221.5px;height:87.7px;background:#fff;border-radius:11px"></div>
<svg width="1600" height="887" viewBox="0 0 1600 887" style="position:absolute;left:0;top:0">
<defs>
<linearGradient id="gold" x1="0" y1="0" x2="1" y2="1">
<stop offset="0" stop-color="#b9861c"/><stop offset="0.45" stop-color="#e8c24e"/><stop offset="0.7" stop-color="#c99526"/><stop offset="1" stop-color="#d9ab3a"/>
</linearGradient>
<linearGradient id="gold2" x1="0" y1="0" x2="1" y2="0">
<stop offset="0" stop-color="#c8962e"/><stop offset="0.5" stop-color="#e6c066"/><stop offset="1" stop-color="#c8962e"/>
</linearGradient>
</defs>
<path d="M1588,793 A10.5,10.5 0 0 1 1598.3,803.5 L1598.3,869.5 A10.5,10.5 0 0 1 1588,880" fill="none" stroke="#777" stroke-width="0.7" stroke-dasharray="2,1.5"/>
<text x="1440.5" y="836" font-family="Liberation Serif" font-size="47.6" letter-spacing="-3" fill="url(#gold)">GCMA</text>
<path d="M1408,841.6 L1578,841.6 Q1582,841.4 1582.5,839.2" stroke="url(#gold2)" stroke-width="1.6" fill="none"/>
<text x="1442.5" y="857" font-family="Liberation Sans" font-size="12.4" letter-spacing="4.75" fill="#4a4a4e">ANIVERSARIO</text>
<g fill="#25262b">
<path d="M1400.20,828.50C1400.63,827.42 1401.23,823.53 1402.80,822.00C1404.37,820.47 1407.10,819.43 1409.60,819.30C1412.10,819.17 1415.85,819.83 1417.80,821.20C1419.75,822.57 1421.07,825.32 1421.30,827.50C1421.53,829.68 1420.50,832.42 1419.20,834.30C1417.90,836.18 1414.93,837.92 1413.50,838.80C1412.07,839.68 1411.08,839.47 1410.60,839.60 L1411.30,838.60C1411.98,837.67 1414.55,835.00 1415.40,833.00C1416.25,831.00 1416.63,828.38 1416.40,826.60C1416.17,824.82 1415.03,823.20 1414.00,822.30C1412.97,821.40 1411.60,821.18 1410.20,821.20C1408.80,821.22 1406.77,821.72 1405.60,822.40C1404.43,823.08 1403.60,824.82 1403.20,825.30Z"/>
<circle cx="1403.1" cy="829.3" r="2.8"/>
<path d="M1406.2,844.3 L1407.6,845 L1397,853 L1394.6,853.4Z"/>
<path d="M1392.4,855 L1395,852.7 L1419.9,852.7 L1420,856.2 L1394,856.3Z"/>
<path d="M1419.2,838.8 L1420.3,834.6 Q1423,832.6 1427,832.3 L1437,831.4 Q1438.6,831.2 1438.2,832.4 Q1436.8,835.2 1433,835.6 L1422,836.3Z"/>
<path d="M1417.6,843.6 L1419.3,844.4 L1418.2,850 L1416.4,850.2Z"/>
<path d="M1416.60,849.60C1418.15,849.07 1422.97,846.03 1425.90,846.40C1428.83,846.77 1432.68,849.32 1434.20,851.80C1435.72,854.28 1435.90,858.45 1435.00,861.30C1434.10,864.15 1431.33,867.40 1428.80,868.90C1426.27,870.40 1422.50,870.52 1419.80,870.30C1417.10,870.08 1414.03,868.87 1412.60,867.60C1411.17,866.33 1411.43,863.52 1411.20,862.70 L1414.50,864.50C1415.05,864.98 1416.25,866.90 1417.80,867.40C1419.35,867.90 1421.92,868.28 1423.80,867.50C1425.68,866.72 1428.18,864.82 1429.10,862.70C1430.02,860.58 1430.07,857.02 1429.30,854.80C1428.53,852.58 1426.22,850.10 1424.50,849.40C1422.78,848.70 1419.92,850.40 1419.00,850.60Z"/>
<circle cx="1414" cy="861.9" r="3"/>
</g>
</svg>
</body></html>
